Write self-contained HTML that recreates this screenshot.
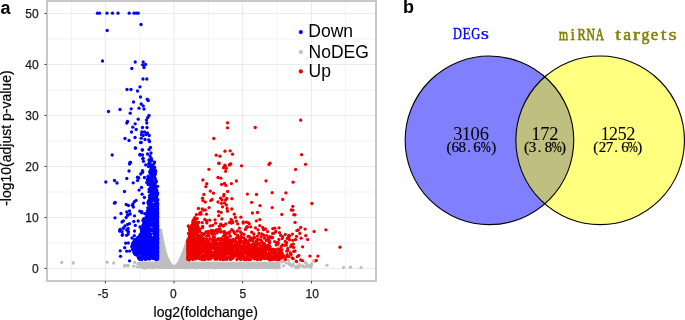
<!DOCTYPE html>
<html><head><meta charset="utf-8"><style>
html,body{margin:0;padding:0;background:#fff;}
body{width:685px;height:320px;overflow:hidden;}
svg{display:block;will-change:transform;}
</style></head><body><svg width="685" height="320" viewBox="0 0 685 320">
<g><line x1="71.40" y1="1" x2="71.40" y2="280" stroke="#f2f2f2" stroke-width="0.9"/><line x1="105.40" y1="1" x2="105.40" y2="280" stroke="#ebebeb" stroke-width="1.1"/><line x1="139.70" y1="1" x2="139.70" y2="280" stroke="#f2f2f2" stroke-width="0.9"/><line x1="174.00" y1="1" x2="174.00" y2="280" stroke="#ebebeb" stroke-width="1.1"/><line x1="208.40" y1="1" x2="208.40" y2="280" stroke="#f2f2f2" stroke-width="0.9"/><line x1="242.60" y1="1" x2="242.60" y2="280" stroke="#ebebeb" stroke-width="1.1"/><line x1="276.90" y1="1" x2="276.90" y2="280" stroke="#f2f2f2" stroke-width="0.9"/><line x1="311.50" y1="1" x2="311.50" y2="280" stroke="#ebebeb" stroke-width="1.1"/><line x1="345.60" y1="1" x2="345.60" y2="280" stroke="#f2f2f2" stroke-width="0.9"/><line x1="47" y1="268.44" x2="376" y2="268.44" stroke="#ebebeb" stroke-width="1.1"/><line x1="47" y1="242.94" x2="376" y2="242.94" stroke="#f2f2f2" stroke-width="0.9"/><line x1="47" y1="217.44" x2="376" y2="217.44" stroke="#ebebeb" stroke-width="1.1"/><line x1="47" y1="191.94" x2="376" y2="191.94" stroke="#f2f2f2" stroke-width="0.9"/><line x1="47" y1="166.44" x2="376" y2="166.44" stroke="#ebebeb" stroke-width="1.1"/><line x1="47" y1="140.94" x2="376" y2="140.94" stroke="#f2f2f2" stroke-width="0.9"/><line x1="47" y1="115.44" x2="376" y2="115.44" stroke="#ebebeb" stroke-width="1.1"/><line x1="47" y1="89.94" x2="376" y2="89.94" stroke="#f2f2f2" stroke-width="0.9"/><line x1="47" y1="64.44" x2="376" y2="64.44" stroke="#ebebeb" stroke-width="1.1"/><line x1="47" y1="38.94" x2="376" y2="38.94" stroke="#f2f2f2" stroke-width="0.9"/><line x1="47" y1="13.44" x2="376" y2="13.44" stroke="#ebebeb" stroke-width="1.1"/></g>
<path d="M158.5,228.8 L162,228.8 L164.25,241.5 L167.25,254.25 L171,262.5 L174,265.5 L177,262.5 L180,256.5 L183,249 L187,236.5 L187,261.8 L278,261.8 L279.5,265 L278,269 L160,269.1 L145,267.6 L138.5,265.5 L137,263 L140,261.6 L158.5,261.6 Z" fill="#bebebe"/>
<g fill="#bebebe"><circle cx="61.7" cy="262.5" r="1.65"/><circle cx="73.2" cy="263.0" r="1.65"/><circle cx="107.1" cy="262.2" r="1.65"/><circle cx="113.7" cy="263.0" r="1.65"/><circle cx="124.3" cy="266.0" r="1.65"/><circle cx="127.8" cy="266.0" r="1.65"/><circle cx="296.0" cy="267.7" r="1.65"/><circle cx="298.4" cy="267.7" r="1.65"/><circle cx="304.5" cy="266.8" r="1.65"/><circle cx="306.4" cy="263.7" r="1.65"/><circle cx="305.5" cy="262.4" r="1.65"/><circle cx="307.4" cy="265.3" r="1.65"/><circle cx="310.8" cy="267.2" r="1.65"/><circle cx="327.0" cy="265.3" r="1.65"/><circle cx="343.6" cy="267.6" r="1.65"/><circle cx="350.5" cy="267.2" r="1.65"/><circle cx="361.1" cy="267.6" r="1.65"/><circle cx="186.2" cy="267.9" r="1.65"/><circle cx="264.4" cy="266.4" r="1.65"/><circle cx="215.0" cy="267.9" r="1.65"/><circle cx="153.8" cy="267.7" r="1.65"/><circle cx="247.7" cy="267.5" r="1.65"/><circle cx="222.9" cy="266.2" r="1.65"/><circle cx="274.0" cy="266.2" r="1.65"/><circle cx="249.0" cy="267.4" r="1.65"/><circle cx="182.4" cy="267.4" r="1.65"/><circle cx="195.7" cy="267.5" r="1.65"/><circle cx="143.2" cy="267.9" r="1.65"/><circle cx="192.0" cy="267.6" r="1.65"/><circle cx="204.4" cy="267.6" r="1.65"/><circle cx="180.1" cy="267.1" r="1.65"/><circle cx="140.6" cy="267.0" r="1.65"/><circle cx="148.3" cy="267.7" r="1.65"/><circle cx="233.9" cy="266.9" r="1.65"/><circle cx="276.3" cy="267.9" r="1.65"/><circle cx="273.8" cy="266.2" r="1.65"/><circle cx="237.7" cy="267.5" r="1.65"/><circle cx="223.6" cy="266.0" r="1.65"/><circle cx="269.1" cy="266.9" r="1.65"/><circle cx="222.1" cy="267.6" r="1.65"/><circle cx="176.4" cy="266.1" r="1.65"/><circle cx="269.0" cy="266.5" r="1.65"/><circle cx="142.9" cy="266.3" r="1.65"/><circle cx="279.3" cy="267.5" r="1.65"/><circle cx="167.0" cy="266.3" r="1.65"/><circle cx="265.4" cy="267.3" r="1.65"/><circle cx="220.4" cy="266.3" r="1.65"/><circle cx="196.1" cy="267.9" r="1.65"/><circle cx="137.5" cy="266.8" r="1.65"/><circle cx="145.2" cy="268.0" r="1.65"/><circle cx="151.9" cy="267.9" r="1.65"/><circle cx="257.3" cy="267.5" r="1.65"/><circle cx="143.0" cy="267.4" r="1.65"/><circle cx="207.5" cy="267.0" r="1.65"/><circle cx="157.8" cy="267.0" r="1.65"/><circle cx="251.7" cy="266.3" r="1.65"/><circle cx="262.3" cy="266.8" r="1.65"/><circle cx="134.7" cy="262.4" r="1.65"/><circle cx="133.8" cy="266.2" r="1.65"/><circle cx="127.9" cy="265.3" r="1.65"/><circle cx="125.7" cy="265.3" r="1.65"/><circle cx="137.9" cy="263.8" r="1.65"/><circle cx="282.0" cy="261.9" r="1.65"/><circle cx="290.7" cy="265.2" r="1.65"/><circle cx="295.6" cy="267.1" r="1.65"/><circle cx="293.0" cy="264.1" r="1.65"/><circle cx="314.5" cy="261.7" r="1.65"/><circle cx="270.7" cy="262.6" r="1.65"/><circle cx="284.1" cy="261.0" r="1.65"/><circle cx="288.8" cy="260.3" r="1.65"/><circle cx="311.4" cy="263.9" r="1.65"/><circle cx="309.5" cy="265.6" r="1.65"/><circle cx="302.8" cy="266.1" r="1.65"/><circle cx="283.6" cy="265.8" r="1.65"/><circle cx="279.3" cy="264.4" r="1.65"/><circle cx="296.8" cy="266.2" r="1.65"/><circle cx="277.5" cy="262.8" r="1.65"/><circle cx="307.1" cy="266.4" r="1.65"/><circle cx="314.0" cy="260.9" r="1.65"/><circle cx="279.5" cy="260.9" r="1.65"/><circle cx="302.6" cy="266.0" r="1.65"/><circle cx="299.2" cy="266.2" r="1.65"/><circle cx="293.2" cy="264.5" r="1.65"/><circle cx="311.4" cy="265.2" r="1.65"/><circle cx="299.5" cy="264.7" r="1.65"/><circle cx="292.2" cy="266.1" r="1.65"/><circle cx="295.8" cy="261.0" r="1.65"/><circle cx="289.2" cy="263.4" r="1.65"/><circle cx="289.5" cy="264.5" r="1.65"/><circle cx="286.3" cy="263.1" r="1.65"/><circle cx="289.2" cy="263.0" r="1.65"/><circle cx="313.7" cy="260.7" r="1.65"/></g>
<g fill="#0000ff"><circle cx="97.5" cy="13.2" r="1.65"/><circle cx="99.5" cy="13.2" r="1.65"/><circle cx="107.0" cy="13.2" r="1.65"/><circle cx="112.5" cy="13.2" r="1.65"/><circle cx="118.0" cy="13.2" r="1.65"/><circle cx="129.2" cy="13.2" r="1.65"/><circle cx="134.0" cy="13.2" r="1.65"/><circle cx="136.2" cy="13.2" r="1.65"/><circle cx="138.2" cy="13.2" r="1.65"/><circle cx="141.0" cy="24.5" r="1.65"/><circle cx="107.2" cy="30.5" r="1.65"/><circle cx="142.6" cy="64.8" r="1.65"/><circle cx="102.5" cy="61.0" r="1.65"/><circle cx="135.2" cy="62.0" r="1.65"/><circle cx="131.8" cy="68.5" r="1.65"/><circle cx="143.2" cy="62.0" r="1.65"/><circle cx="145.5" cy="64.5" r="1.65"/><circle cx="144.0" cy="67.5" r="1.65"/><circle cx="143.0" cy="79.0" r="1.65"/><circle cx="146.8" cy="79.0" r="1.65"/><circle cx="140.0" cy="86.8" r="1.65"/><circle cx="127.0" cy="89.5" r="1.65"/><circle cx="131.0" cy="89.5" r="1.65"/><circle cx="137.5" cy="91.0" r="1.65"/><circle cx="140.5" cy="97.0" r="1.65"/><circle cx="147.2" cy="99.2" r="1.65"/><circle cx="148.2" cy="100.5" r="1.65"/><circle cx="133.5" cy="102.0" r="1.65"/><circle cx="141.2" cy="104.0" r="1.65"/><circle cx="143.2" cy="105.8" r="1.65"/><circle cx="139.0" cy="108.2" r="1.65"/><circle cx="144.0" cy="109.0" r="1.65"/><circle cx="120.0" cy="109.5" r="1.65"/><circle cx="131.2" cy="108.8" r="1.65"/><circle cx="108.5" cy="111.5" r="1.65"/><circle cx="130.2" cy="113.2" r="1.65"/><circle cx="149.0" cy="115.5" r="1.65"/><circle cx="147.8" cy="117.5" r="1.65"/><circle cx="146.5" cy="120.0" r="1.65"/><circle cx="138.2" cy="119.2" r="1.65"/><circle cx="127.5" cy="121.5" r="1.65"/><circle cx="126.8" cy="123.0" r="1.65"/><circle cx="135.2" cy="123.8" r="1.65"/><circle cx="146.8" cy="123.0" r="1.65"/><circle cx="132.8" cy="127.2" r="1.65"/><circle cx="142.5" cy="127.5" r="1.65"/><circle cx="147.0" cy="127.5" r="1.65"/><circle cx="136.2" cy="129.5" r="1.65"/><circle cx="131.5" cy="132.0" r="1.65"/><circle cx="141.8" cy="132.0" r="1.65"/><circle cx="144.5" cy="132.0" r="1.65"/><circle cx="147.5" cy="133.0" r="1.65"/><circle cx="141.5" cy="134.5" r="1.65"/><circle cx="143.2" cy="135.5" r="1.65"/><circle cx="146.2" cy="134.5" r="1.65"/><circle cx="149.2" cy="135.5" r="1.65"/><circle cx="135.0" cy="137.5" r="1.65"/><circle cx="125.0" cy="138.5" r="1.65"/><circle cx="129.0" cy="140.5" r="1.65"/><circle cx="141.2" cy="138.2" r="1.65"/><circle cx="145.0" cy="139.5" r="1.65"/><circle cx="148.8" cy="140.0" r="1.65"/><circle cx="140.5" cy="142.5" r="1.65"/><circle cx="149.5" cy="141.5" r="1.65"/><circle cx="135.2" cy="148.0" r="1.65"/><circle cx="150.5" cy="147.5" r="1.65"/><circle cx="149.0" cy="149.5" r="1.65"/><circle cx="142.2" cy="150.0" r="1.65"/><circle cx="112.2" cy="155.0" r="1.65"/><circle cx="140.0" cy="154.5" r="1.65"/><circle cx="142.5" cy="155.0" r="1.65"/><circle cx="147.5" cy="154.0" r="1.65"/><circle cx="151.0" cy="153.0" r="1.65"/><circle cx="150.0" cy="156.0" r="1.65"/><circle cx="143.0" cy="158.2" r="1.65"/><circle cx="151.2" cy="158.2" r="1.65"/><circle cx="141.2" cy="142.5" r="1.65"/><circle cx="135.6" cy="148.1" r="1.65"/><circle cx="142.5" cy="149.8" r="1.65"/><circle cx="140.0" cy="155.0" r="1.65"/><circle cx="142.9" cy="158.8" r="1.65"/><circle cx="130.6" cy="162.5" r="1.65"/><circle cx="142.5" cy="170.6" r="1.65"/><circle cx="137.5" cy="177.2" r="1.65"/><circle cx="144.4" cy="177.5" r="1.65"/><circle cx="130.0" cy="162.5" r="1.65"/><circle cx="129.5" cy="164.0" r="1.65"/><circle cx="129.0" cy="171.0" r="1.65"/><circle cx="105.8" cy="182.0" r="1.65"/><circle cx="114.5" cy="180.5" r="1.65"/><circle cx="117.0" cy="183.0" r="1.65"/><circle cx="126.8" cy="178.5" r="1.65"/><circle cx="133.2" cy="182.8" r="1.65"/><circle cx="138.0" cy="177.5" r="1.65"/><circle cx="124.5" cy="191.5" r="1.65"/><circle cx="114.5" cy="203.2" r="1.65"/><circle cx="115.2" cy="202.5" r="1.65"/><circle cx="126.2" cy="204.5" r="1.65"/><circle cx="128.5" cy="205.5" r="1.65"/><circle cx="133.0" cy="203.8" r="1.65"/><circle cx="121.0" cy="213.5" r="1.65"/><circle cx="126.8" cy="212.0" r="1.65"/><circle cx="129.5" cy="211.0" r="1.65"/><circle cx="127.5" cy="215.0" r="1.65"/><circle cx="130.2" cy="214.0" r="1.65"/><circle cx="115.0" cy="217.8" r="1.65"/><circle cx="126.2" cy="217.5" r="1.65"/><circle cx="122.0" cy="222.0" r="1.65"/><circle cx="133.8" cy="221.5" r="1.65"/><circle cx="138.2" cy="221.0" r="1.65"/><circle cx="127.5" cy="224.5" r="1.65"/><circle cx="123.8" cy="228.0" r="1.65"/><circle cx="120.0" cy="230.8" r="1.65"/><circle cx="122.0" cy="231.5" r="1.65"/><circle cx="128.0" cy="231.0" r="1.65"/><circle cx="134.5" cy="231.0" r="1.65"/><circle cx="140.0" cy="227.0" r="1.65"/><circle cx="122.5" cy="234.5" r="1.65"/><circle cx="128.2" cy="234.0" r="1.65"/><circle cx="132.0" cy="238.0" r="1.65"/><circle cx="140.0" cy="235.0" r="1.65"/><circle cx="120.5" cy="256.3" r="1.65"/><circle cx="120.2" cy="250.8" r="1.65"/><circle cx="126.7" cy="251.2" r="1.65"/><circle cx="124.7" cy="247.7" r="1.65"/><circle cx="125.7" cy="243.2" r="1.65"/><circle cx="128.3" cy="243.0" r="1.65"/><circle cx="129.5" cy="260.8" r="1.65"/><circle cx="122.3" cy="235.3" r="1.65"/><circle cx="119.7" cy="231.0" r="1.65"/><circle cx="123.1" cy="228.1" r="1.65"/><circle cx="126.6" cy="235.3" r="1.65"/><circle cx="128.3" cy="231.9" r="1.65"/><circle cx="149.5" cy="160.2" r="1.65"/><circle cx="149.0" cy="160.0" r="1.65"/><circle cx="151.8" cy="160.5" r="1.65"/><circle cx="151.3" cy="160.6" r="1.65"/><circle cx="143.5" cy="161.3" r="1.65"/><circle cx="150.0" cy="162.1" r="1.65"/><circle cx="154.6" cy="162.1" r="1.65"/><circle cx="148.9" cy="163.4" r="1.65"/><circle cx="149.4" cy="163.8" r="1.65"/><circle cx="153.9" cy="163.7" r="1.65"/><circle cx="151.1" cy="165.0" r="1.65"/><circle cx="149.1" cy="164.6" r="1.65"/><circle cx="145.7" cy="164.9" r="1.65"/><circle cx="152.6" cy="166.0" r="1.65"/><circle cx="150.7" cy="166.3" r="1.65"/><circle cx="152.5" cy="167.0" r="1.65"/><circle cx="154.5" cy="167.2" r="1.65"/><circle cx="148.5" cy="166.6" r="1.65"/><circle cx="153.8" cy="167.7" r="1.65"/><circle cx="152.0" cy="167.5" r="1.65"/><circle cx="152.7" cy="169.4" r="1.65"/><circle cx="150.9" cy="169.2" r="1.65"/><circle cx="151.9" cy="170.3" r="1.65"/><circle cx="155.2" cy="170.0" r="1.65"/><circle cx="153.6" cy="171.1" r="1.65"/><circle cx="155.6" cy="171.3" r="1.65"/><circle cx="142.5" cy="171.2" r="1.65"/><circle cx="152.1" cy="171.7" r="1.65"/><circle cx="149.7" cy="171.6" r="1.65"/><circle cx="154.2" cy="171.6" r="1.65"/><circle cx="142.5" cy="172.4" r="1.65"/><circle cx="152.0" cy="173.0" r="1.65"/><circle cx="155.0" cy="173.3" r="1.65"/><circle cx="154.9" cy="172.8" r="1.65"/><circle cx="155.1" cy="174.5" r="1.65"/><circle cx="150.0" cy="173.7" r="1.65"/><circle cx="140.7" cy="174.0" r="1.65"/><circle cx="150.8" cy="174.5" r="1.65"/><circle cx="151.9" cy="174.9" r="1.65"/><circle cx="153.9" cy="176.0" r="1.65"/><circle cx="153.4" cy="176.2" r="1.65"/><circle cx="147.9" cy="176.3" r="1.65"/><circle cx="154.7" cy="176.9" r="1.65"/><circle cx="151.9" cy="176.6" r="1.65"/><circle cx="149.5" cy="177.7" r="1.65"/><circle cx="150.2" cy="177.8" r="1.65"/><circle cx="149.4" cy="177.5" r="1.65"/><circle cx="138.8" cy="177.9" r="1.65"/><circle cx="155.4" cy="179.1" r="1.65"/><circle cx="150.1" cy="178.8" r="1.65"/><circle cx="151.6" cy="178.9" r="1.65"/><circle cx="147.3" cy="179.5" r="1.65"/><circle cx="152.6" cy="179.6" r="1.65"/><circle cx="149.8" cy="179.8" r="1.65"/><circle cx="151.0" cy="180.3" r="1.65"/><circle cx="137.6" cy="180.5" r="1.65"/><circle cx="150.1" cy="181.0" r="1.65"/><circle cx="149.2" cy="181.0" r="1.65"/><circle cx="156.4" cy="181.4" r="1.65"/><circle cx="151.8" cy="181.7" r="1.65"/><circle cx="154.9" cy="182.0" r="1.65"/><circle cx="155.0" cy="181.8" r="1.65"/><circle cx="146.8" cy="182.5" r="1.65"/><circle cx="155.2" cy="183.3" r="1.65"/><circle cx="154.7" cy="182.7" r="1.65"/><circle cx="149.2" cy="183.5" r="1.65"/><circle cx="151.2" cy="183.8" r="1.65"/><circle cx="154.4" cy="184.5" r="1.65"/><circle cx="148.2" cy="184.5" r="1.65"/><circle cx="151.9" cy="184.7" r="1.65"/><circle cx="150.8" cy="184.7" r="1.65"/><circle cx="150.6" cy="185.1" r="1.65"/><circle cx="152.8" cy="186.2" r="1.65"/><circle cx="155.4" cy="185.6" r="1.65"/><circle cx="154.3" cy="186.4" r="1.65"/><circle cx="152.9" cy="186.7" r="1.65"/><circle cx="155.4" cy="186.8" r="1.65"/><circle cx="155.5" cy="187.5" r="1.65"/><circle cx="141.5" cy="187.4" r="1.65"/><circle cx="150.4" cy="187.6" r="1.65"/><circle cx="150.2" cy="188.4" r="1.65"/><circle cx="155.6" cy="187.6" r="1.65"/><circle cx="154.5" cy="188.9" r="1.65"/><circle cx="153.6" cy="188.6" r="1.65"/><circle cx="149.1" cy="189.5" r="1.65"/><circle cx="156.8" cy="189.9" r="1.65"/><circle cx="156.3" cy="190.3" r="1.65"/><circle cx="150.8" cy="189.8" r="1.65"/><circle cx="139.1" cy="190.1" r="1.65"/><circle cx="152.4" cy="190.6" r="1.65"/><circle cx="156.6" cy="190.9" r="1.65"/><circle cx="152.8" cy="191.1" r="1.65"/><circle cx="156.6" cy="190.9" r="1.65"/><circle cx="153.3" cy="192.0" r="1.65"/><circle cx="149.0" cy="191.9" r="1.65"/><circle cx="150.4" cy="191.5" r="1.65"/><circle cx="152.8" cy="193.2" r="1.65"/><circle cx="153.5" cy="192.8" r="1.65"/><circle cx="153.1" cy="193.1" r="1.65"/><circle cx="155.4" cy="192.6" r="1.65"/><circle cx="151.0" cy="194.3" r="1.65"/><circle cx="153.0" cy="194.1" r="1.65"/><circle cx="155.2" cy="194.4" r="1.65"/><circle cx="152.4" cy="194.1" r="1.65"/><circle cx="142.1" cy="194.2" r="1.65"/><circle cx="153.1" cy="195.0" r="1.65"/><circle cx="156.7" cy="195.2" r="1.65"/><circle cx="156.1" cy="195.4" r="1.65"/><circle cx="150.8" cy="195.1" r="1.65"/><circle cx="149.6" cy="195.6" r="1.65"/><circle cx="152.3" cy="195.6" r="1.65"/><circle cx="150.5" cy="195.6" r="1.65"/><circle cx="156.2" cy="196.7" r="1.65"/><circle cx="154.6" cy="197.2" r="1.65"/><circle cx="149.6" cy="197.4" r="1.65"/><circle cx="156.8" cy="196.7" r="1.65"/><circle cx="152.5" cy="198.5" r="1.65"/><circle cx="155.6" cy="197.7" r="1.65"/><circle cx="152.0" cy="198.0" r="1.65"/><circle cx="151.2" cy="197.7" r="1.65"/><circle cx="144.4" cy="197.5" r="1.65"/><circle cx="152.0" cy="198.5" r="1.65"/><circle cx="151.1" cy="199.1" r="1.65"/><circle cx="152.7" cy="198.6" r="1.65"/><circle cx="156.9" cy="199.3" r="1.65"/><circle cx="150.4" cy="199.5" r="1.65"/><circle cx="155.0" cy="199.8" r="1.65"/><circle cx="149.2" cy="199.9" r="1.65"/><circle cx="156.2" cy="200.3" r="1.65"/><circle cx="136.1" cy="200.4" r="1.65"/><circle cx="154.3" cy="200.6" r="1.65"/><circle cx="148.5" cy="201.2" r="1.65"/><circle cx="151.8" cy="200.6" r="1.65"/><circle cx="156.5" cy="201.1" r="1.65"/><circle cx="155.7" cy="201.6" r="1.65"/><circle cx="155.8" cy="202.0" r="1.65"/><circle cx="151.0" cy="202.1" r="1.65"/><circle cx="156.4" cy="201.8" r="1.65"/><circle cx="149.1" cy="202.0" r="1.65"/><circle cx="134.4" cy="201.7" r="1.65"/><circle cx="149.7" cy="202.8" r="1.65"/><circle cx="150.6" cy="203.3" r="1.65"/><circle cx="150.5" cy="203.0" r="1.65"/><circle cx="149.4" cy="202.8" r="1.65"/><circle cx="148.0" cy="202.8" r="1.65"/><circle cx="143.6" cy="203.1" r="1.65"/><circle cx="152.2" cy="204.4" r="1.65"/><circle cx="148.7" cy="204.3" r="1.65"/><circle cx="151.8" cy="204.0" r="1.65"/><circle cx="155.5" cy="203.9" r="1.65"/><circle cx="152.5" cy="204.2" r="1.65"/><circle cx="155.5" cy="205.2" r="1.65"/><circle cx="153.7" cy="204.9" r="1.65"/><circle cx="150.9" cy="204.6" r="1.65"/><circle cx="148.9" cy="204.6" r="1.65"/><circle cx="154.7" cy="204.8" r="1.65"/><circle cx="132.4" cy="205.3" r="1.65"/><circle cx="154.0" cy="205.8" r="1.65"/><circle cx="149.9" cy="205.8" r="1.65"/><circle cx="152.0" cy="205.7" r="1.65"/><circle cx="151.8" cy="205.8" r="1.65"/><circle cx="152.8" cy="206.7" r="1.65"/><circle cx="156.8" cy="206.8" r="1.65"/><circle cx="151.0" cy="206.5" r="1.65"/><circle cx="151.2" cy="207.0" r="1.65"/><circle cx="133.4" cy="207.0" r="1.65"/><circle cx="150.0" cy="207.6" r="1.65"/><circle cx="151.3" cy="207.5" r="1.65"/><circle cx="147.7" cy="207.8" r="1.65"/><circle cx="149.7" cy="208.1" r="1.65"/><circle cx="152.6" cy="208.3" r="1.65"/><circle cx="156.0" cy="208.9" r="1.65"/><circle cx="150.6" cy="209.5" r="1.65"/><circle cx="148.9" cy="209.2" r="1.65"/><circle cx="153.7" cy="208.5" r="1.65"/><circle cx="153.5" cy="210.2" r="1.65"/><circle cx="155.3" cy="209.6" r="1.65"/><circle cx="152.5" cy="210.0" r="1.65"/><circle cx="155.6" cy="210.3" r="1.65"/><circle cx="156.2" cy="211.2" r="1.65"/><circle cx="154.2" cy="210.7" r="1.65"/><circle cx="147.6" cy="210.6" r="1.65"/><circle cx="150.9" cy="210.6" r="1.65"/><circle cx="155.6" cy="211.1" r="1.65"/><circle cx="139.8" cy="211.2" r="1.65"/><circle cx="147.2" cy="212.3" r="1.65"/><circle cx="154.7" cy="212.0" r="1.65"/><circle cx="152.6" cy="212.2" r="1.65"/><circle cx="147.9" cy="212.2" r="1.65"/><circle cx="149.7" cy="211.6" r="1.65"/><circle cx="141.7" cy="211.7" r="1.65"/><circle cx="157.0" cy="213.0" r="1.65"/><circle cx="151.0" cy="213.0" r="1.65"/><circle cx="154.1" cy="213.3" r="1.65"/><circle cx="153.4" cy="213.1" r="1.65"/><circle cx="147.9" cy="212.6" r="1.65"/><circle cx="141.8" cy="212.8" r="1.65"/><circle cx="147.2" cy="213.6" r="1.65"/><circle cx="149.8" cy="214.2" r="1.65"/><circle cx="154.1" cy="214.2" r="1.65"/><circle cx="150.0" cy="214.0" r="1.65"/><circle cx="151.8" cy="214.0" r="1.65"/><circle cx="144.8" cy="213.7" r="1.65"/><circle cx="156.6" cy="214.5" r="1.65"/><circle cx="151.7" cy="215.3" r="1.65"/><circle cx="157.0" cy="214.9" r="1.65"/><circle cx="149.8" cy="214.7" r="1.65"/><circle cx="156.7" cy="214.7" r="1.65"/><circle cx="128.1" cy="215.0" r="1.65"/><circle cx="148.0" cy="216.3" r="1.65"/><circle cx="152.1" cy="216.4" r="1.65"/><circle cx="154.1" cy="215.7" r="1.65"/><circle cx="156.2" cy="216.0" r="1.65"/><circle cx="146.9" cy="215.5" r="1.65"/><circle cx="134.5" cy="215.8" r="1.65"/><circle cx="150.0" cy="216.8" r="1.65"/><circle cx="155.6" cy="216.5" r="1.65"/><circle cx="154.6" cy="217.3" r="1.65"/><circle cx="147.5" cy="217.4" r="1.65"/><circle cx="154.1" cy="217.4" r="1.65"/><circle cx="149.4" cy="216.9" r="1.65"/><circle cx="146.2" cy="217.1" r="1.65"/><circle cx="150.7" cy="217.8" r="1.65"/><circle cx="146.4" cy="217.6" r="1.65"/><circle cx="155.4" cy="217.8" r="1.65"/><circle cx="156.6" cy="217.7" r="1.65"/><circle cx="148.9" cy="218.0" r="1.65"/><circle cx="148.0" cy="217.9" r="1.65"/><circle cx="155.1" cy="219.1" r="1.65"/><circle cx="156.3" cy="219.4" r="1.65"/><circle cx="152.0" cy="219.2" r="1.65"/><circle cx="146.0" cy="219.2" r="1.65"/><circle cx="150.8" cy="219.3" r="1.65"/><circle cx="153.1" cy="218.8" r="1.65"/><circle cx="143.8" cy="218.6" r="1.65"/><circle cx="149.3" cy="219.8" r="1.65"/><circle cx="154.2" cy="220.5" r="1.65"/><circle cx="148.2" cy="220.2" r="1.65"/><circle cx="148.7" cy="220.1" r="1.65"/><circle cx="149.9" cy="219.7" r="1.65"/><circle cx="147.0" cy="219.7" r="1.65"/><circle cx="156.2" cy="220.0" r="1.65"/><circle cx="142.9" cy="220.5" r="1.65"/><circle cx="146.4" cy="220.7" r="1.65"/><circle cx="145.8" cy="220.8" r="1.65"/><circle cx="145.8" cy="220.7" r="1.65"/><circle cx="147.9" cy="221.1" r="1.65"/><circle cx="156.0" cy="221.2" r="1.65"/><circle cx="149.9" cy="220.9" r="1.65"/><circle cx="151.3" cy="220.9" r="1.65"/><circle cx="123.4" cy="220.8" r="1.65"/><circle cx="145.9" cy="222.0" r="1.65"/><circle cx="152.5" cy="222.4" r="1.65"/><circle cx="147.1" cy="221.8" r="1.65"/><circle cx="147.5" cy="221.9" r="1.65"/><circle cx="150.1" cy="222.5" r="1.65"/><circle cx="155.4" cy="222.4" r="1.65"/><circle cx="144.5" cy="221.5" r="1.65"/><circle cx="150.3" cy="223.1" r="1.65"/><circle cx="143.8" cy="222.9" r="1.65"/><circle cx="156.5" cy="223.3" r="1.65"/><circle cx="155.5" cy="223.5" r="1.65"/><circle cx="147.2" cy="222.6" r="1.65"/><circle cx="145.9" cy="223.0" r="1.65"/><circle cx="153.1" cy="223.4" r="1.65"/><circle cx="154.2" cy="224.0" r="1.65"/><circle cx="151.2" cy="223.5" r="1.65"/><circle cx="154.4" cy="223.7" r="1.65"/><circle cx="156.4" cy="224.1" r="1.65"/><circle cx="147.7" cy="223.6" r="1.65"/><circle cx="146.9" cy="224.1" r="1.65"/><circle cx="153.2" cy="223.6" r="1.65"/><circle cx="144.4" cy="224.0" r="1.65"/><circle cx="129.4" cy="223.7" r="1.65"/><circle cx="143.2" cy="224.8" r="1.65"/><circle cx="149.7" cy="225.5" r="1.65"/><circle cx="152.3" cy="225.4" r="1.65"/><circle cx="149.9" cy="224.7" r="1.65"/><circle cx="146.6" cy="225.5" r="1.65"/><circle cx="153.2" cy="224.8" r="1.65"/><circle cx="143.3" cy="225.0" r="1.65"/><circle cx="152.8" cy="224.9" r="1.65"/><circle cx="135.3" cy="225.4" r="1.65"/><circle cx="143.1" cy="225.8" r="1.65"/><circle cx="148.9" cy="226.2" r="1.65"/><circle cx="145.6" cy="226.3" r="1.65"/><circle cx="153.6" cy="226.0" r="1.65"/><circle cx="145.7" cy="226.5" r="1.65"/><circle cx="147.2" cy="226.3" r="1.65"/><circle cx="146.0" cy="225.7" r="1.65"/><circle cx="153.9" cy="225.8" r="1.65"/><circle cx="156.8" cy="226.0" r="1.65"/><circle cx="125.0" cy="225.9" r="1.65"/><circle cx="156.7" cy="226.6" r="1.65"/><circle cx="148.2" cy="226.7" r="1.65"/><circle cx="157.1" cy="226.6" r="1.65"/><circle cx="143.0" cy="226.6" r="1.65"/><circle cx="148.2" cy="227.4" r="1.65"/><circle cx="155.7" cy="227.2" r="1.65"/><circle cx="157.5" cy="227.4" r="1.65"/><circle cx="147.2" cy="226.7" r="1.65"/><circle cx="142.3" cy="228.2" r="1.65"/><circle cx="147.8" cy="227.9" r="1.65"/><circle cx="147.0" cy="227.7" r="1.65"/><circle cx="141.8" cy="227.8" r="1.65"/><circle cx="147.3" cy="228.5" r="1.65"/><circle cx="143.7" cy="228.5" r="1.65"/><circle cx="145.1" cy="227.9" r="1.65"/><circle cx="154.7" cy="228.3" r="1.65"/><circle cx="148.6" cy="227.5" r="1.65"/><circle cx="128.1" cy="228.4" r="1.65"/><circle cx="147.3" cy="229.4" r="1.65"/><circle cx="141.9" cy="228.9" r="1.65"/><circle cx="154.5" cy="229.3" r="1.65"/><circle cx="142.1" cy="228.5" r="1.65"/><circle cx="142.4" cy="229.4" r="1.65"/><circle cx="145.5" cy="229.2" r="1.65"/><circle cx="155.9" cy="228.8" r="1.65"/><circle cx="145.8" cy="229.5" r="1.65"/><circle cx="151.4" cy="228.8" r="1.65"/><circle cx="153.0" cy="228.8" r="1.65"/><circle cx="120.1" cy="229.3" r="1.65"/><circle cx="151.5" cy="230.4" r="1.65"/><circle cx="141.4" cy="229.7" r="1.65"/><circle cx="148.9" cy="230.5" r="1.65"/><circle cx="156.8" cy="229.9" r="1.65"/><circle cx="145.2" cy="229.9" r="1.65"/><circle cx="149.2" cy="230.4" r="1.65"/><circle cx="144.0" cy="230.3" r="1.65"/><circle cx="153.2" cy="230.3" r="1.65"/><circle cx="153.8" cy="230.1" r="1.65"/><circle cx="126.7" cy="229.9" r="1.65"/><circle cx="141.9" cy="230.7" r="1.65"/><circle cx="153.4" cy="230.7" r="1.65"/><circle cx="141.7" cy="230.5" r="1.65"/><circle cx="150.0" cy="230.8" r="1.65"/><circle cx="157.2" cy="231.4" r="1.65"/><circle cx="157.4" cy="230.8" r="1.65"/><circle cx="142.0" cy="230.6" r="1.65"/><circle cx="149.1" cy="231.2" r="1.65"/><circle cx="148.2" cy="230.7" r="1.65"/><circle cx="147.7" cy="231.1" r="1.65"/><circle cx="154.9" cy="232.2" r="1.65"/><circle cx="142.3" cy="232.3" r="1.65"/><circle cx="145.3" cy="232.1" r="1.65"/><circle cx="146.7" cy="232.2" r="1.65"/><circle cx="143.7" cy="231.7" r="1.65"/><circle cx="144.5" cy="231.7" r="1.65"/><circle cx="155.6" cy="232.1" r="1.65"/><circle cx="145.9" cy="231.9" r="1.65"/><circle cx="157.4" cy="232.0" r="1.65"/><circle cx="144.2" cy="232.3" r="1.65"/><circle cx="141.6" cy="233.0" r="1.65"/><circle cx="154.4" cy="233.3" r="1.65"/><circle cx="156.1" cy="232.5" r="1.65"/><circle cx="145.0" cy="232.6" r="1.65"/><circle cx="143.2" cy="233.5" r="1.65"/><circle cx="150.2" cy="233.4" r="1.65"/><circle cx="146.4" cy="233.4" r="1.65"/><circle cx="147.8" cy="232.8" r="1.65"/><circle cx="153.6" cy="233.4" r="1.65"/><circle cx="141.7" cy="233.1" r="1.65"/><circle cx="146.1" cy="233.6" r="1.65"/><circle cx="143.1" cy="233.8" r="1.65"/><circle cx="150.3" cy="234.2" r="1.65"/><circle cx="143.1" cy="233.5" r="1.65"/><circle cx="145.4" cy="234.2" r="1.65"/><circle cx="142.8" cy="233.8" r="1.65"/><circle cx="143.1" cy="234.3" r="1.65"/><circle cx="149.4" cy="233.6" r="1.65"/><circle cx="141.2" cy="233.9" r="1.65"/><circle cx="149.4" cy="234.1" r="1.65"/><circle cx="141.1" cy="233.7" r="1.65"/><circle cx="144.3" cy="234.8" r="1.65"/><circle cx="156.7" cy="234.8" r="1.65"/><circle cx="149.5" cy="234.9" r="1.65"/><circle cx="146.7" cy="235.4" r="1.65"/><circle cx="157.5" cy="234.9" r="1.65"/><circle cx="142.7" cy="235.2" r="1.65"/><circle cx="142.8" cy="234.5" r="1.65"/><circle cx="155.8" cy="234.9" r="1.65"/><circle cx="154.3" cy="234.9" r="1.65"/><circle cx="155.4" cy="235.0" r="1.65"/><circle cx="142.0" cy="234.5" r="1.65"/><circle cx="155.8" cy="235.6" r="1.65"/><circle cx="150.2" cy="235.9" r="1.65"/><circle cx="148.0" cy="235.6" r="1.65"/><circle cx="143.7" cy="236.0" r="1.65"/><circle cx="156.2" cy="235.6" r="1.65"/><circle cx="147.7" cy="236.3" r="1.65"/><circle cx="157.0" cy="235.7" r="1.65"/><circle cx="140.6" cy="236.4" r="1.65"/><circle cx="157.1" cy="236.0" r="1.65"/><circle cx="139.2" cy="236.4" r="1.65"/><circle cx="145.7" cy="236.4" r="1.65"/><circle cx="150.2" cy="236.3" r="1.65"/><circle cx="134.3" cy="235.7" r="1.65"/><circle cx="154.5" cy="237.3" r="1.65"/><circle cx="141.0" cy="236.7" r="1.65"/><circle cx="145.4" cy="237.0" r="1.65"/><circle cx="145.1" cy="236.6" r="1.65"/><circle cx="142.3" cy="237.2" r="1.65"/><circle cx="155.5" cy="236.5" r="1.65"/><circle cx="148.7" cy="237.3" r="1.65"/><circle cx="138.1" cy="237.3" r="1.65"/><circle cx="139.7" cy="237.1" r="1.65"/><circle cx="148.5" cy="237.1" r="1.65"/><circle cx="143.5" cy="236.9" r="1.65"/><circle cx="149.1" cy="236.9" r="1.65"/><circle cx="150.7" cy="236.9" r="1.65"/><circle cx="149.5" cy="238.0" r="1.65"/><circle cx="141.4" cy="238.3" r="1.65"/><circle cx="152.9" cy="238.0" r="1.65"/><circle cx="140.2" cy="238.0" r="1.65"/><circle cx="138.7" cy="237.6" r="1.65"/><circle cx="145.5" cy="237.6" r="1.65"/><circle cx="145.8" cy="238.0" r="1.65"/><circle cx="137.3" cy="238.1" r="1.65"/><circle cx="138.2" cy="238.2" r="1.65"/><circle cx="152.9" cy="238.0" r="1.65"/><circle cx="137.6" cy="238.0" r="1.65"/><circle cx="144.4" cy="238.5" r="1.65"/><circle cx="139.3" cy="238.4" r="1.65"/><circle cx="157.5" cy="238.2" r="1.65"/><circle cx="157.2" cy="239.0" r="1.65"/><circle cx="156.6" cy="239.4" r="1.65"/><circle cx="139.2" cy="239.3" r="1.65"/><circle cx="156.1" cy="238.6" r="1.65"/><circle cx="143.3" cy="239.3" r="1.65"/><circle cx="139.1" cy="239.4" r="1.65"/><circle cx="141.6" cy="239.3" r="1.65"/><circle cx="138.7" cy="239.0" r="1.65"/><circle cx="155.8" cy="238.7" r="1.65"/><circle cx="141.4" cy="239.0" r="1.65"/><circle cx="142.6" cy="238.5" r="1.65"/><circle cx="139.6" cy="238.7" r="1.65"/><circle cx="156.2" cy="239.2" r="1.65"/><circle cx="155.3" cy="238.7" r="1.65"/><circle cx="152.9" cy="238.6" r="1.65"/><circle cx="142.9" cy="240.4" r="1.65"/><circle cx="147.4" cy="240.1" r="1.65"/><circle cx="154.9" cy="239.6" r="1.65"/><circle cx="157.4" cy="240.1" r="1.65"/><circle cx="143.7" cy="240.3" r="1.65"/><circle cx="140.8" cy="240.5" r="1.65"/><circle cx="147.9" cy="239.9" r="1.65"/><circle cx="152.2" cy="239.9" r="1.65"/><circle cx="138.8" cy="240.2" r="1.65"/><circle cx="135.8" cy="240.3" r="1.65"/><circle cx="140.5" cy="240.1" r="1.65"/><circle cx="157.2" cy="240.1" r="1.65"/><circle cx="149.9" cy="239.8" r="1.65"/><circle cx="134.8" cy="239.5" r="1.65"/><circle cx="138.1" cy="240.1" r="1.65"/><circle cx="155.1" cy="240.6" r="1.65"/><circle cx="139.3" cy="241.2" r="1.65"/><circle cx="134.4" cy="240.5" r="1.65"/><circle cx="142.3" cy="240.6" r="1.65"/><circle cx="142.3" cy="240.7" r="1.65"/><circle cx="147.7" cy="241.1" r="1.65"/><circle cx="138.7" cy="241.1" r="1.65"/><circle cx="145.1" cy="240.6" r="1.65"/><circle cx="156.1" cy="240.7" r="1.65"/><circle cx="137.4" cy="240.6" r="1.65"/><circle cx="149.0" cy="241.4" r="1.65"/><circle cx="152.4" cy="240.9" r="1.65"/><circle cx="140.1" cy="240.5" r="1.65"/><circle cx="149.2" cy="241.1" r="1.65"/><circle cx="142.2" cy="241.1" r="1.65"/><circle cx="144.4" cy="241.4" r="1.65"/><circle cx="155.2" cy="241.5" r="1.65"/><circle cx="146.1" cy="241.9" r="1.65"/><circle cx="138.8" cy="241.6" r="1.65"/><circle cx="152.2" cy="241.5" r="1.65"/><circle cx="146.6" cy="242.4" r="1.65"/><circle cx="136.5" cy="241.7" r="1.65"/><circle cx="148.0" cy="242.0" r="1.65"/><circle cx="148.8" cy="242.3" r="1.65"/><circle cx="137.3" cy="241.8" r="1.65"/><circle cx="140.4" cy="241.5" r="1.65"/><circle cx="154.9" cy="242.3" r="1.65"/><circle cx="150.6" cy="241.5" r="1.65"/><circle cx="153.8" cy="242.2" r="1.65"/><circle cx="144.4" cy="242.2" r="1.65"/><circle cx="144.1" cy="241.7" r="1.65"/><circle cx="135.6" cy="241.7" r="1.65"/><circle cx="134.0" cy="241.8" r="1.65"/><circle cx="153.7" cy="243.2" r="1.65"/><circle cx="139.2" cy="243.1" r="1.65"/><circle cx="143.5" cy="243.3" r="1.65"/><circle cx="145.7" cy="242.8" r="1.65"/><circle cx="148.7" cy="243.5" r="1.65"/><circle cx="138.0" cy="243.4" r="1.65"/><circle cx="133.0" cy="242.8" r="1.65"/><circle cx="138.5" cy="243.2" r="1.65"/><circle cx="156.2" cy="243.2" r="1.65"/><circle cx="140.8" cy="243.4" r="1.65"/><circle cx="140.8" cy="242.7" r="1.65"/><circle cx="155.3" cy="243.1" r="1.65"/><circle cx="149.9" cy="243.2" r="1.65"/><circle cx="157.1" cy="243.0" r="1.65"/><circle cx="153.6" cy="243.2" r="1.65"/><circle cx="154.0" cy="242.9" r="1.65"/><circle cx="150.7" cy="243.1" r="1.65"/><circle cx="140.3" cy="242.7" r="1.65"/><circle cx="155.3" cy="243.6" r="1.65"/><circle cx="132.9" cy="243.6" r="1.65"/><circle cx="155.8" cy="243.8" r="1.65"/><circle cx="135.8" cy="243.5" r="1.65"/><circle cx="133.3" cy="244.2" r="1.65"/><circle cx="148.3" cy="244.2" r="1.65"/><circle cx="150.9" cy="243.6" r="1.65"/><circle cx="147.2" cy="243.9" r="1.65"/><circle cx="153.0" cy="244.3" r="1.65"/><circle cx="154.8" cy="243.6" r="1.65"/><circle cx="154.2" cy="244.4" r="1.65"/><circle cx="156.2" cy="243.6" r="1.65"/><circle cx="137.4" cy="243.6" r="1.65"/><circle cx="133.1" cy="244.3" r="1.65"/><circle cx="152.8" cy="244.1" r="1.65"/><circle cx="153.2" cy="244.1" r="1.65"/><circle cx="139.5" cy="243.6" r="1.65"/><circle cx="134.7" cy="244.3" r="1.65"/><circle cx="137.4" cy="243.8" r="1.65"/><circle cx="138.4" cy="244.8" r="1.65"/><circle cx="150.3" cy="244.9" r="1.65"/><circle cx="140.1" cy="245.5" r="1.65"/><circle cx="144.8" cy="245.4" r="1.65"/><circle cx="147.8" cy="244.5" r="1.65"/><circle cx="142.5" cy="244.9" r="1.65"/><circle cx="151.7" cy="244.8" r="1.65"/><circle cx="150.0" cy="245.0" r="1.65"/><circle cx="137.4" cy="245.4" r="1.65"/><circle cx="134.1" cy="245.3" r="1.65"/><circle cx="136.2" cy="244.5" r="1.65"/><circle cx="137.0" cy="245.3" r="1.65"/><circle cx="157.0" cy="244.5" r="1.65"/><circle cx="144.5" cy="245.0" r="1.65"/><circle cx="152.4" cy="244.7" r="1.65"/><circle cx="144.6" cy="244.8" r="1.65"/><circle cx="153.3" cy="244.8" r="1.65"/><circle cx="156.2" cy="244.8" r="1.65"/><circle cx="137.3" cy="245.2" r="1.65"/><circle cx="148.1" cy="245.6" r="1.65"/><circle cx="152.0" cy="246.2" r="1.65"/><circle cx="152.0" cy="246.1" r="1.65"/><circle cx="140.7" cy="245.9" r="1.65"/><circle cx="141.7" cy="246.4" r="1.65"/><circle cx="133.7" cy="246.4" r="1.65"/><circle cx="132.1" cy="245.7" r="1.65"/><circle cx="138.3" cy="246.4" r="1.65"/><circle cx="144.5" cy="245.9" r="1.65"/><circle cx="154.6" cy="245.7" r="1.65"/><circle cx="143.5" cy="246.0" r="1.65"/><circle cx="151.2" cy="246.3" r="1.65"/><circle cx="148.3" cy="245.8" r="1.65"/><circle cx="140.0" cy="245.7" r="1.65"/><circle cx="153.5" cy="246.2" r="1.65"/><circle cx="150.8" cy="245.7" r="1.65"/><circle cx="142.9" cy="246.3" r="1.65"/><circle cx="146.6" cy="245.6" r="1.65"/><circle cx="143.5" cy="246.4" r="1.65"/><circle cx="137.6" cy="245.7" r="1.65"/><circle cx="153.4" cy="246.7" r="1.65"/><circle cx="135.1" cy="246.7" r="1.65"/><circle cx="139.7" cy="247.0" r="1.65"/><circle cx="135.3" cy="246.8" r="1.65"/><circle cx="136.0" cy="247.5" r="1.65"/><circle cx="150.4" cy="246.6" r="1.65"/><circle cx="156.6" cy="246.6" r="1.65"/><circle cx="141.2" cy="247.5" r="1.65"/><circle cx="152.1" cy="247.2" r="1.65"/><circle cx="142.6" cy="246.7" r="1.65"/><circle cx="148.0" cy="246.6" r="1.65"/><circle cx="136.5" cy="246.9" r="1.65"/><circle cx="131.9" cy="246.9" r="1.65"/><circle cx="152.0" cy="247.2" r="1.65"/><circle cx="144.3" cy="247.1" r="1.65"/><circle cx="143.3" cy="246.6" r="1.65"/><circle cx="147.1" cy="246.9" r="1.65"/><circle cx="150.7" cy="247.4" r="1.65"/><circle cx="142.4" cy="247.1" r="1.65"/><circle cx="150.9" cy="246.9" r="1.65"/><circle cx="154.5" cy="248.3" r="1.65"/><circle cx="149.7" cy="248.4" r="1.65"/><circle cx="149.2" cy="248.1" r="1.65"/><circle cx="143.3" cy="247.8" r="1.65"/><circle cx="147.9" cy="247.6" r="1.65"/><circle cx="142.4" cy="248.3" r="1.65"/><circle cx="150.1" cy="248.1" r="1.65"/><circle cx="138.0" cy="247.9" r="1.65"/><circle cx="143.3" cy="248.1" r="1.65"/><circle cx="142.1" cy="248.2" r="1.65"/><circle cx="155.8" cy="247.7" r="1.65"/><circle cx="148.5" cy="248.3" r="1.65"/><circle cx="141.6" cy="248.0" r="1.65"/><circle cx="156.9" cy="247.5" r="1.65"/><circle cx="145.6" cy="247.7" r="1.65"/><circle cx="151.9" cy="248.4" r="1.65"/><circle cx="145.0" cy="247.6" r="1.65"/><circle cx="146.5" cy="248.0" r="1.65"/><circle cx="150.2" cy="248.0" r="1.65"/><circle cx="145.3" cy="248.9" r="1.65"/><circle cx="156.3" cy="248.7" r="1.65"/><circle cx="149.5" cy="248.9" r="1.65"/><circle cx="151.5" cy="248.6" r="1.65"/><circle cx="157.2" cy="248.9" r="1.65"/><circle cx="133.3" cy="248.8" r="1.65"/><circle cx="142.1" cy="248.5" r="1.65"/><circle cx="142.6" cy="248.9" r="1.65"/><circle cx="149.8" cy="248.9" r="1.65"/><circle cx="138.6" cy="248.7" r="1.65"/><circle cx="150.9" cy="249.4" r="1.65"/><circle cx="145.4" cy="248.7" r="1.65"/><circle cx="152.5" cy="248.9" r="1.65"/><circle cx="137.3" cy="248.6" r="1.65"/><circle cx="151.8" cy="249.3" r="1.65"/><circle cx="148.2" cy="249.0" r="1.65"/><circle cx="146.3" cy="248.7" r="1.65"/><circle cx="156.7" cy="248.9" r="1.65"/><circle cx="148.3" cy="249.3" r="1.65"/><circle cx="139.7" cy="250.0" r="1.65"/><circle cx="135.4" cy="250.3" r="1.65"/><circle cx="141.2" cy="250.4" r="1.65"/><circle cx="139.0" cy="249.9" r="1.65"/><circle cx="138.6" cy="249.9" r="1.65"/><circle cx="136.9" cy="249.5" r="1.65"/><circle cx="150.5" cy="249.8" r="1.65"/><circle cx="138.4" cy="249.8" r="1.65"/><circle cx="144.4" cy="249.9" r="1.65"/><circle cx="148.4" cy="250.2" r="1.65"/><circle cx="141.4" cy="250.4" r="1.65"/><circle cx="153.9" cy="249.6" r="1.65"/><circle cx="153.2" cy="250.4" r="1.65"/><circle cx="152.1" cy="249.6" r="1.65"/><circle cx="153.3" cy="250.1" r="1.65"/><circle cx="132.6" cy="249.5" r="1.65"/><circle cx="156.4" cy="250.2" r="1.65"/><circle cx="138.6" cy="249.6" r="1.65"/><circle cx="135.8" cy="249.7" r="1.65"/><circle cx="136.4" cy="251.4" r="1.65"/><circle cx="152.4" cy="250.7" r="1.65"/><circle cx="154.9" cy="251.1" r="1.65"/><circle cx="152.1" cy="251.2" r="1.65"/><circle cx="154.9" cy="251.3" r="1.65"/><circle cx="153.6" cy="250.7" r="1.65"/><circle cx="149.9" cy="251.0" r="1.65"/><circle cx="151.1" cy="250.9" r="1.65"/><circle cx="154.7" cy="251.1" r="1.65"/><circle cx="139.2" cy="250.7" r="1.65"/><circle cx="136.1" cy="251.0" r="1.65"/><circle cx="134.1" cy="251.0" r="1.65"/><circle cx="136.2" cy="251.0" r="1.65"/><circle cx="145.1" cy="251.0" r="1.65"/><circle cx="154.2" cy="250.5" r="1.65"/><circle cx="153.6" cy="251.0" r="1.65"/><circle cx="146.7" cy="251.2" r="1.65"/><circle cx="153.6" cy="250.9" r="1.65"/><circle cx="143.1" cy="251.5" r="1.65"/><circle cx="129.6" cy="251.1" r="1.65"/><circle cx="148.0" cy="252.2" r="1.65"/><circle cx="155.9" cy="251.8" r="1.65"/><circle cx="157.2" cy="252.0" r="1.65"/><circle cx="144.9" cy="252.4" r="1.65"/><circle cx="133.8" cy="252.2" r="1.65"/><circle cx="148.4" cy="251.8" r="1.65"/><circle cx="154.2" cy="251.9" r="1.65"/><circle cx="144.7" cy="252.0" r="1.65"/><circle cx="152.0" cy="251.7" r="1.65"/><circle cx="143.7" cy="251.9" r="1.65"/><circle cx="146.6" cy="252.3" r="1.65"/><circle cx="140.2" cy="252.3" r="1.65"/><circle cx="142.9" cy="252.0" r="1.65"/><circle cx="139.7" cy="252.0" r="1.65"/><circle cx="157.0" cy="252.2" r="1.65"/><circle cx="152.5" cy="251.8" r="1.65"/><circle cx="140.8" cy="251.8" r="1.65"/><circle cx="147.4" cy="252.1" r="1.65"/><circle cx="152.3" cy="251.5" r="1.65"/><circle cx="146.8" cy="252.5" r="1.65"/><circle cx="141.0" cy="252.5" r="1.65"/><circle cx="138.3" cy="253.4" r="1.65"/><circle cx="148.3" cy="253.2" r="1.65"/><circle cx="152.6" cy="253.4" r="1.65"/><circle cx="148.4" cy="253.1" r="1.65"/><circle cx="148.7" cy="253.2" r="1.65"/><circle cx="148.0" cy="253.2" r="1.65"/><circle cx="138.9" cy="253.2" r="1.65"/><circle cx="144.7" cy="253.3" r="1.65"/><circle cx="136.2" cy="252.7" r="1.65"/><circle cx="134.7" cy="253.3" r="1.65"/><circle cx="155.6" cy="253.2" r="1.65"/><circle cx="142.6" cy="253.3" r="1.65"/><circle cx="152.5" cy="253.1" r="1.65"/><circle cx="140.0" cy="252.8" r="1.65"/><circle cx="143.9" cy="252.8" r="1.65"/><circle cx="156.1" cy="253.6" r="1.65"/><circle cx="147.7" cy="253.5" r="1.65"/><circle cx="137.4" cy="254.3" r="1.65"/><circle cx="147.9" cy="254.4" r="1.65"/><circle cx="144.9" cy="253.5" r="1.65"/><circle cx="143.5" cy="254.1" r="1.65"/><circle cx="156.2" cy="254.5" r="1.65"/><circle cx="145.6" cy="253.9" r="1.65"/><circle cx="137.0" cy="254.1" r="1.65"/><circle cx="139.5" cy="253.7" r="1.65"/><circle cx="135.0" cy="253.5" r="1.65"/><circle cx="150.3" cy="253.6" r="1.65"/><circle cx="156.8" cy="253.6" r="1.65"/><circle cx="154.6" cy="253.6" r="1.65"/><circle cx="135.1" cy="254.2" r="1.65"/><circle cx="140.2" cy="254.2" r="1.65"/><circle cx="139.0" cy="253.6" r="1.65"/><circle cx="154.4" cy="255.2" r="1.65"/><circle cx="137.4" cy="255.1" r="1.65"/><circle cx="151.2" cy="255.0" r="1.65"/><circle cx="156.1" cy="254.8" r="1.65"/><circle cx="156.8" cy="255.2" r="1.65"/><circle cx="135.8" cy="254.5" r="1.65"/><circle cx="149.9" cy="255.3" r="1.65"/><circle cx="137.3" cy="254.8" r="1.65"/><circle cx="151.6" cy="254.7" r="1.65"/><circle cx="154.5" cy="255.0" r="1.65"/><circle cx="136.8" cy="254.9" r="1.65"/><circle cx="148.2" cy="254.9" r="1.65"/><circle cx="150.5" cy="254.6" r="1.65"/><circle cx="153.1" cy="254.9" r="1.65"/><circle cx="149.8" cy="255.1" r="1.65"/><circle cx="144.7" cy="254.9" r="1.65"/><circle cx="153.0" cy="256.1" r="1.65"/><circle cx="142.6" cy="255.6" r="1.65"/><circle cx="157.0" cy="256.2" r="1.65"/><circle cx="153.9" cy="255.8" r="1.65"/><circle cx="149.2" cy="256.5" r="1.65"/><circle cx="154.0" cy="256.1" r="1.65"/><circle cx="142.9" cy="255.9" r="1.65"/><circle cx="155.2" cy="255.9" r="1.65"/><circle cx="150.9" cy="256.1" r="1.65"/><circle cx="155.4" cy="256.3" r="1.65"/><circle cx="142.4" cy="255.5" r="1.65"/><circle cx="141.9" cy="255.9" r="1.65"/><circle cx="148.8" cy="256.3" r="1.65"/><circle cx="155.2" cy="255.5" r="1.65"/><circle cx="154.1" cy="256.3" r="1.65"/><circle cx="154.8" cy="256.1" r="1.65"/><circle cx="153.7" cy="257.2" r="1.65"/><circle cx="155.8" cy="256.8" r="1.65"/><circle cx="138.9" cy="257.1" r="1.65"/><circle cx="153.5" cy="256.7" r="1.65"/><circle cx="152.5" cy="257.4" r="1.65"/><circle cx="141.9" cy="257.1" r="1.65"/><circle cx="151.0" cy="257.0" r="1.65"/><circle cx="141.4" cy="256.8" r="1.65"/><circle cx="152.5" cy="257.3" r="1.65"/><circle cx="146.6" cy="256.6" r="1.65"/><circle cx="153.6" cy="257.3" r="1.65"/><circle cx="141.9" cy="257.1" r="1.65"/><circle cx="155.5" cy="257.4" r="1.65"/><circle cx="147.8" cy="257.0" r="1.65"/><circle cx="149.2" cy="256.7" r="1.65"/><circle cx="151.7" cy="257.9" r="1.65"/><circle cx="149.1" cy="257.9" r="1.65"/><circle cx="148.1" cy="257.6" r="1.65"/><circle cx="138.9" cy="258.5" r="1.65"/><circle cx="145.3" cy="257.6" r="1.65"/><circle cx="150.4" cy="258.3" r="1.65"/><circle cx="141.1" cy="258.1" r="1.65"/><circle cx="144.8" cy="258.0" r="1.65"/><circle cx="138.4" cy="257.5" r="1.65"/><circle cx="157.4" cy="258.4" r="1.65"/><circle cx="147.5" cy="258.1" r="1.65"/><circle cx="143.1" cy="258.3" r="1.65"/><circle cx="146.3" cy="258.4" r="1.65"/><circle cx="153.0" cy="258.3" r="1.65"/><circle cx="156.9" cy="257.8" r="1.65"/><circle cx="142.2" cy="258.6" r="1.65"/><circle cx="139.7" cy="259.1" r="1.65"/><circle cx="155.2" cy="259.0" r="1.65"/><circle cx="156.6" cy="259.4" r="1.65"/><circle cx="140.0" cy="259.1" r="1.65"/><circle cx="146.2" cy="258.6" r="1.65"/><circle cx="156.8" cy="258.8" r="1.65"/><circle cx="149.4" cy="259.1" r="1.65"/><circle cx="156.8" cy="259.2" r="1.65"/><circle cx="146.2" cy="258.9" r="1.65"/><circle cx="141.8" cy="259.5" r="1.65"/><circle cx="157.4" cy="258.7" r="1.65"/><circle cx="139.5" cy="258.8" r="1.65"/><circle cx="145.4" cy="259.4" r="1.65"/><circle cx="157.6" cy="186.3" r="1.65"/><circle cx="157.6" cy="192.8" r="1.65"/><circle cx="157.6" cy="194.1" r="1.65"/><circle cx="157.6" cy="199.3" r="1.65"/><circle cx="157.6" cy="200.6" r="1.65"/><circle cx="157.6" cy="203.2" r="1.65"/><circle cx="157.6" cy="204.5" r="1.65"/><circle cx="157.6" cy="205.8" r="1.65"/><circle cx="157.6" cy="207.1" r="1.65"/><circle cx="157.6" cy="208.4" r="1.65"/><circle cx="157.6" cy="209.7" r="1.65"/><circle cx="157.6" cy="211.0" r="1.65"/><circle cx="157.6" cy="212.3" r="1.65"/><circle cx="157.6" cy="213.6" r="1.65"/><circle cx="157.6" cy="214.9" r="1.65"/><circle cx="157.6" cy="216.2" r="1.65"/><circle cx="156.4" cy="216.8" r="1.65"/><circle cx="157.6" cy="217.5" r="1.65"/><circle cx="156.4" cy="218.1" r="1.65"/><circle cx="157.6" cy="218.8" r="1.65"/><circle cx="156.4" cy="219.4" r="1.65"/><circle cx="157.6" cy="220.1" r="1.65"/><circle cx="156.4" cy="220.7" r="1.65"/><circle cx="157.6" cy="221.4" r="1.65"/><circle cx="156.4" cy="222.0" r="1.65"/><circle cx="157.6" cy="222.7" r="1.65"/><circle cx="156.4" cy="223.3" r="1.65"/><circle cx="157.6" cy="224.0" r="1.65"/><circle cx="156.4" cy="224.6" r="1.65"/><circle cx="157.6" cy="225.3" r="1.65"/><circle cx="156.4" cy="225.9" r="1.65"/><circle cx="157.6" cy="226.6" r="1.65"/><circle cx="156.4" cy="227.2" r="1.65"/><circle cx="157.6" cy="227.9" r="1.65"/><circle cx="156.4" cy="228.5" r="1.65"/><circle cx="157.6" cy="229.2" r="1.65"/><circle cx="156.4" cy="229.8" r="1.65"/><circle cx="157.6" cy="230.5" r="1.65"/><circle cx="156.4" cy="231.1" r="1.65"/><circle cx="157.6" cy="231.8" r="1.65"/><circle cx="156.4" cy="232.4" r="1.65"/><circle cx="157.6" cy="233.1" r="1.65"/><circle cx="156.4" cy="233.7" r="1.65"/><circle cx="157.6" cy="234.4" r="1.65"/><circle cx="156.4" cy="235.0" r="1.65"/><circle cx="157.6" cy="235.7" r="1.65"/><circle cx="156.4" cy="236.3" r="1.65"/><circle cx="157.6" cy="237.0" r="1.65"/><circle cx="156.4" cy="237.6" r="1.65"/><circle cx="157.6" cy="238.3" r="1.65"/><circle cx="156.4" cy="238.9" r="1.65"/><circle cx="157.6" cy="239.6" r="1.65"/><circle cx="156.4" cy="240.2" r="1.65"/><circle cx="157.6" cy="240.9" r="1.65"/><circle cx="156.4" cy="241.5" r="1.65"/><circle cx="157.6" cy="242.2" r="1.65"/><circle cx="156.4" cy="242.8" r="1.65"/><circle cx="157.6" cy="243.5" r="1.65"/><circle cx="156.4" cy="244.1" r="1.65"/><circle cx="157.6" cy="244.8" r="1.65"/><circle cx="156.4" cy="245.4" r="1.65"/><circle cx="157.6" cy="246.1" r="1.65"/><circle cx="156.4" cy="246.7" r="1.65"/><circle cx="157.6" cy="247.4" r="1.65"/><circle cx="156.4" cy="248.0" r="1.65"/><circle cx="157.6" cy="248.7" r="1.65"/><circle cx="156.4" cy="249.3" r="1.65"/><circle cx="157.6" cy="250.0" r="1.65"/><circle cx="156.4" cy="250.6" r="1.65"/><circle cx="157.6" cy="251.3" r="1.65"/><circle cx="156.4" cy="251.9" r="1.65"/><circle cx="157.6" cy="252.6" r="1.65"/><circle cx="156.4" cy="253.2" r="1.65"/><circle cx="157.6" cy="253.9" r="1.65"/><circle cx="156.4" cy="254.5" r="1.65"/><circle cx="157.6" cy="255.2" r="1.65"/><circle cx="156.4" cy="255.8" r="1.65"/><circle cx="157.6" cy="256.5" r="1.65"/><circle cx="156.4" cy="257.1" r="1.65"/><circle cx="157.6" cy="257.8" r="1.65"/><circle cx="156.4" cy="258.4" r="1.65"/><circle cx="157.6" cy="259.1" r="1.65"/><circle cx="156.4" cy="259.7" r="1.65"/></g>
<g fill="#ee0000"><circle cx="227.5" cy="122.8" r="1.65"/><circle cx="227.5" cy="127.8" r="1.65"/><circle cx="255.2" cy="127.5" r="1.65"/><circle cx="300.7" cy="120.2" r="1.65"/><circle cx="213.8" cy="138.5" r="1.65"/><circle cx="225.0" cy="151.2" r="1.65"/><circle cx="230.2" cy="150.8" r="1.65"/><circle cx="232.5" cy="154.2" r="1.65"/><circle cx="216.2" cy="155.2" r="1.65"/><circle cx="220.0" cy="156.2" r="1.65"/><circle cx="219.0" cy="163.2" r="1.65"/><circle cx="225.0" cy="165.8" r="1.65"/><circle cx="223.8" cy="167.5" r="1.65"/><circle cx="226.2" cy="168.0" r="1.65"/><circle cx="229.5" cy="165.0" r="1.65"/><circle cx="230.5" cy="164.2" r="1.65"/><circle cx="241.5" cy="165.8" r="1.65"/><circle cx="269.0" cy="164.5" r="1.65"/><circle cx="270.0" cy="163.2" r="1.65"/><circle cx="301.6" cy="154.7" r="1.65"/><circle cx="305.5" cy="164.3" r="1.65"/><circle cx="295.6" cy="169.4" r="1.65"/><circle cx="218.9" cy="163.4" r="1.65"/><circle cx="224.9" cy="165.2" r="1.65"/><circle cx="223.7" cy="167.7" r="1.65"/><circle cx="225.9" cy="168.3" r="1.65"/><circle cx="225.6" cy="171.3" r="1.65"/><circle cx="230.0" cy="164.3" r="1.65"/><circle cx="230.7" cy="163.8" r="1.65"/><circle cx="208.9" cy="169.3" r="1.65"/><circle cx="218.0" cy="177.5" r="1.65"/><circle cx="220.8" cy="178.2" r="1.65"/><circle cx="202.9" cy="180.0" r="1.65"/><circle cx="236.4" cy="181.0" r="1.65"/><circle cx="206.7" cy="183.7" r="1.65"/><circle cx="205.8" cy="186.6" r="1.65"/><circle cx="221.6" cy="184.4" r="1.65"/><circle cx="224.5" cy="183.4" r="1.65"/><circle cx="225.9" cy="185.4" r="1.65"/><circle cx="231.4" cy="183.6" r="1.65"/><circle cx="210.3" cy="191.1" r="1.65"/><circle cx="213.5" cy="193.2" r="1.65"/><circle cx="227.6" cy="191.5" r="1.65"/><circle cx="203.9" cy="194.4" r="1.65"/><circle cx="224.0" cy="194.4" r="1.65"/><circle cx="223.7" cy="196.1" r="1.65"/><circle cx="202.5" cy="198.2" r="1.65"/><circle cx="203.0" cy="200.6" r="1.65"/><circle cx="205.3" cy="202.1" r="1.65"/><circle cx="212.0" cy="199.5" r="1.65"/><circle cx="210.8" cy="200.6" r="1.65"/><circle cx="220.6" cy="198.2" r="1.65"/><circle cx="222.0" cy="199.9" r="1.65"/><circle cx="226.8" cy="198.5" r="1.65"/><circle cx="225.6" cy="199.9" r="1.65"/><circle cx="231.9" cy="198.7" r="1.65"/><circle cx="218.0" cy="202.0" r="1.65"/><circle cx="221.4" cy="203.3" r="1.65"/><circle cx="224.5" cy="203.0" r="1.65"/><circle cx="226.3" cy="205.0" r="1.65"/><circle cx="222.5" cy="206.8" r="1.65"/><circle cx="209.1" cy="207.6" r="1.65"/><circle cx="198.4" cy="208.5" r="1.65"/><circle cx="202.2" cy="209.0" r="1.65"/><circle cx="203.6" cy="210.2" r="1.65"/><circle cx="205.3" cy="209.9" r="1.65"/><circle cx="227.1" cy="208.5" r="1.65"/><circle cx="231.8" cy="209.0" r="1.65"/><circle cx="218.5" cy="211.6" r="1.65"/><circle cx="221.1" cy="212.4" r="1.65"/><circle cx="227.5" cy="211.2" r="1.65"/><circle cx="196.3" cy="214.7" r="1.65"/><circle cx="199.3" cy="214.0" r="1.65"/><circle cx="206.5" cy="214.2" r="1.65"/><circle cx="266.0" cy="180.8" r="1.65"/><circle cx="293.1" cy="182.2" r="1.65"/><circle cx="247.4" cy="194.1" r="1.65"/><circle cx="256.5" cy="194.4" r="1.65"/><circle cx="272.2" cy="192.7" r="1.65"/><circle cx="285.9" cy="192.9" r="1.65"/><circle cx="282.7" cy="199.4" r="1.65"/><circle cx="251.7" cy="202.3" r="1.65"/><circle cx="260.0" cy="205.6" r="1.65"/><circle cx="272.2" cy="207.6" r="1.65"/><circle cx="292.8" cy="206.3" r="1.65"/><circle cx="291.3" cy="209.9" r="1.65"/><circle cx="292.8" cy="210.2" r="1.65"/><circle cx="252.4" cy="213.0" r="1.65"/><circle cx="257.5" cy="212.5" r="1.65"/><circle cx="281.8" cy="214.4" r="1.65"/><circle cx="293.8" cy="214.7" r="1.65"/><circle cx="311.9" cy="203.5" r="1.65"/><circle cx="295.0" cy="214.8" r="1.65"/><circle cx="295.0" cy="222.4" r="1.65"/><circle cx="300.7" cy="227.5" r="1.65"/><circle cx="305.1" cy="229.1" r="1.65"/><circle cx="314.1" cy="231.5" r="1.65"/><circle cx="325.9" cy="229.8" r="1.65"/><circle cx="296.9" cy="230.6" r="1.65"/><circle cx="298.4" cy="230.0" r="1.65"/><circle cx="299.8" cy="233.4" r="1.65"/><circle cx="296.5" cy="236.3" r="1.65"/><circle cx="305.7" cy="235.7" r="1.65"/><circle cx="301.1" cy="238.2" r="1.65"/><circle cx="307.6" cy="239.5" r="1.65"/><circle cx="295.6" cy="239.5" r="1.65"/><circle cx="302.6" cy="246.8" r="1.65"/><circle cx="340.0" cy="247.2" r="1.65"/><circle cx="295.0" cy="251.0" r="1.65"/><circle cx="298.8" cy="255.4" r="1.65"/><circle cx="297.3" cy="256.7" r="1.65"/><circle cx="309.9" cy="256.1" r="1.65"/><circle cx="317.9" cy="256.1" r="1.65"/><circle cx="316.3" cy="260.5" r="1.65"/><circle cx="300.7" cy="259.9" r="1.65"/><circle cx="302.6" cy="260.7" r="1.65"/><circle cx="296.5" cy="261.5" r="1.65"/><circle cx="188.0" cy="241.7" r="1.65"/><circle cx="188.0" cy="242.2" r="1.65"/><circle cx="188.0" cy="258.1" r="1.65"/><circle cx="188.0" cy="257.3" r="1.65"/><circle cx="188.0" cy="247.7" r="1.65"/><circle cx="188.0" cy="251.6" r="1.65"/><circle cx="188.0" cy="248.4" r="1.65"/><circle cx="188.0" cy="241.1" r="1.65"/><circle cx="188.0" cy="250.0" r="1.65"/><circle cx="188.0" cy="256.9" r="1.65"/><circle cx="189.0" cy="243.0" r="1.65"/><circle cx="189.0" cy="251.4" r="1.65"/><circle cx="188.7" cy="241.8" r="1.65"/><circle cx="189.4" cy="237.1" r="1.65"/><circle cx="188.5" cy="243.2" r="1.65"/><circle cx="188.7" cy="255.5" r="1.65"/><circle cx="188.6" cy="240.1" r="1.65"/><circle cx="188.6" cy="252.5" r="1.65"/><circle cx="190.2" cy="234.5" r="1.65"/><circle cx="189.7" cy="253.7" r="1.65"/><circle cx="189.6" cy="240.9" r="1.65"/><circle cx="190.3" cy="253.7" r="1.65"/><circle cx="189.5" cy="255.4" r="1.65"/><circle cx="190.4" cy="256.9" r="1.65"/><circle cx="190.3" cy="236.4" r="1.65"/><circle cx="189.9" cy="239.6" r="1.65"/><circle cx="190.0" cy="246.9" r="1.65"/><circle cx="189.6" cy="242.1" r="1.65"/><circle cx="190.2" cy="255.4" r="1.65"/><circle cx="189.6" cy="240.1" r="1.65"/><circle cx="190.0" cy="243.7" r="1.65"/><circle cx="190.5" cy="245.0" r="1.65"/><circle cx="189.6" cy="235.1" r="1.65"/><circle cx="190.2" cy="229.0" r="1.65"/><circle cx="190.1" cy="234.2" r="1.65"/><circle cx="190.2" cy="246.3" r="1.65"/><circle cx="189.6" cy="250.7" r="1.65"/><circle cx="189.8" cy="243.6" r="1.65"/><circle cx="191.1" cy="254.6" r="1.65"/><circle cx="191.3" cy="250.4" r="1.65"/><circle cx="190.9" cy="257.4" r="1.65"/><circle cx="190.9" cy="253.8" r="1.65"/><circle cx="190.8" cy="235.4" r="1.65"/><circle cx="191.1" cy="232.1" r="1.65"/><circle cx="190.6" cy="236.4" r="1.65"/><circle cx="190.5" cy="238.9" r="1.65"/><circle cx="190.8" cy="232.8" r="1.65"/><circle cx="191.0" cy="245.8" r="1.65"/><circle cx="191.1" cy="233.6" r="1.65"/><circle cx="190.8" cy="258.1" r="1.65"/><circle cx="190.6" cy="240.1" r="1.65"/><circle cx="190.8" cy="227.5" r="1.65"/><circle cx="192.0" cy="228.1" r="1.65"/><circle cx="192.1" cy="253.0" r="1.65"/><circle cx="192.2" cy="245.1" r="1.65"/><circle cx="192.1" cy="237.2" r="1.65"/><circle cx="191.7" cy="237.6" r="1.65"/><circle cx="191.9" cy="227.2" r="1.65"/><circle cx="191.9" cy="242.4" r="1.65"/><circle cx="192.1" cy="253.9" r="1.65"/><circle cx="192.5" cy="238.5" r="1.65"/><circle cx="192.4" cy="224.6" r="1.65"/><circle cx="191.9" cy="236.3" r="1.65"/><circle cx="191.6" cy="236.3" r="1.65"/><circle cx="191.8" cy="248.8" r="1.65"/><circle cx="192.1" cy="232.7" r="1.65"/><circle cx="192.2" cy="239.6" r="1.65"/><circle cx="192.3" cy="249.7" r="1.65"/><circle cx="192.5" cy="242.4" r="1.65"/><circle cx="192.3" cy="241.9" r="1.65"/><circle cx="191.9" cy="254.4" r="1.65"/><circle cx="192.2" cy="236.9" r="1.65"/><circle cx="192.1" cy="230.2" r="1.65"/><circle cx="192.3" cy="234.0" r="1.65"/><circle cx="191.9" cy="253.4" r="1.65"/><circle cx="191.6" cy="225.7" r="1.65"/><circle cx="191.6" cy="242.0" r="1.65"/><circle cx="192.3" cy="256.4" r="1.65"/><circle cx="192.5" cy="255.9" r="1.65"/><circle cx="193.4" cy="241.3" r="1.65"/><circle cx="193.5" cy="250.1" r="1.65"/><circle cx="193.2" cy="239.3" r="1.65"/><circle cx="193.1" cy="233.8" r="1.65"/><circle cx="192.6" cy="246.0" r="1.65"/><circle cx="193.1" cy="233.2" r="1.65"/><circle cx="192.9" cy="258.2" r="1.65"/><circle cx="193.3" cy="231.9" r="1.65"/><circle cx="193.5" cy="224.6" r="1.65"/><circle cx="192.6" cy="252.3" r="1.65"/><circle cx="193.3" cy="255.2" r="1.65"/><circle cx="192.8" cy="235.2" r="1.65"/><circle cx="192.7" cy="239.0" r="1.65"/><circle cx="193.1" cy="225.1" r="1.65"/><circle cx="192.9" cy="244.3" r="1.65"/><circle cx="193.2" cy="250.7" r="1.65"/><circle cx="193.2" cy="253.0" r="1.65"/><circle cx="193.1" cy="225.7" r="1.65"/><circle cx="193.0" cy="228.6" r="1.65"/><circle cx="192.9" cy="259.6" r="1.65"/><circle cx="193.3" cy="222.5" r="1.65"/><circle cx="192.7" cy="221.9" r="1.65"/><circle cx="193.3" cy="220.0" r="1.65"/><circle cx="192.9" cy="231.0" r="1.65"/><circle cx="193.9" cy="241.7" r="1.65"/><circle cx="194.4" cy="233.3" r="1.65"/><circle cx="193.7" cy="235.6" r="1.65"/><circle cx="194.4" cy="253.4" r="1.65"/><circle cx="194.1" cy="251.8" r="1.65"/><circle cx="194.4" cy="258.0" r="1.65"/><circle cx="194.2" cy="227.1" r="1.65"/><circle cx="194.4" cy="226.2" r="1.65"/><circle cx="193.9" cy="227.1" r="1.65"/><circle cx="193.6" cy="229.2" r="1.65"/><circle cx="193.9" cy="239.6" r="1.65"/><circle cx="194.3" cy="219.5" r="1.65"/><circle cx="193.7" cy="231.8" r="1.65"/><circle cx="193.5" cy="228.9" r="1.65"/><circle cx="193.7" cy="245.3" r="1.65"/><circle cx="193.8" cy="247.0" r="1.65"/><circle cx="193.9" cy="252.6" r="1.65"/><circle cx="194.2" cy="223.5" r="1.65"/><circle cx="194.0" cy="238.4" r="1.65"/><circle cx="193.7" cy="242.0" r="1.65"/><circle cx="194.4" cy="242.8" r="1.65"/><circle cx="194.0" cy="222.0" r="1.65"/><circle cx="194.1" cy="233.2" r="1.65"/><circle cx="195.4" cy="219.8" r="1.65"/><circle cx="194.6" cy="230.0" r="1.65"/><circle cx="195.0" cy="240.6" r="1.65"/><circle cx="194.8" cy="229.0" r="1.65"/><circle cx="195.2" cy="225.9" r="1.65"/><circle cx="195.4" cy="228.3" r="1.65"/><circle cx="194.8" cy="253.6" r="1.65"/><circle cx="194.9" cy="245.0" r="1.65"/><circle cx="194.7" cy="244.8" r="1.65"/><circle cx="195.1" cy="253.0" r="1.65"/><circle cx="195.4" cy="223.9" r="1.65"/><circle cx="194.5" cy="248.1" r="1.65"/><circle cx="194.7" cy="217.7" r="1.65"/><circle cx="194.5" cy="229.2" r="1.65"/><circle cx="194.7" cy="229.6" r="1.65"/><circle cx="195.2" cy="252.7" r="1.65"/><circle cx="195.2" cy="227.1" r="1.65"/><circle cx="195.3" cy="231.3" r="1.65"/><circle cx="194.5" cy="249.9" r="1.65"/><circle cx="194.5" cy="253.3" r="1.65"/><circle cx="195.3" cy="226.7" r="1.65"/><circle cx="195.2" cy="248.8" r="1.65"/><circle cx="195.3" cy="233.2" r="1.65"/><circle cx="195.4" cy="228.3" r="1.65"/><circle cx="195.3" cy="246.2" r="1.65"/><circle cx="194.6" cy="243.4" r="1.65"/><circle cx="195.0" cy="246.5" r="1.65"/><circle cx="195.3" cy="256.6" r="1.65"/><circle cx="195.0" cy="251.2" r="1.65"/><circle cx="195.6" cy="241.0" r="1.65"/><circle cx="195.7" cy="233.3" r="1.65"/><circle cx="196.2" cy="231.4" r="1.65"/><circle cx="195.7" cy="246.2" r="1.65"/><circle cx="196.4" cy="239.8" r="1.65"/><circle cx="196.4" cy="233.1" r="1.65"/><circle cx="195.8" cy="224.5" r="1.65"/><circle cx="196.3" cy="252.1" r="1.65"/><circle cx="196.1" cy="225.6" r="1.65"/><circle cx="196.3" cy="237.6" r="1.65"/><circle cx="195.9" cy="223.4" r="1.65"/><circle cx="195.8" cy="227.1" r="1.65"/><circle cx="195.9" cy="226.8" r="1.65"/><circle cx="196.0" cy="223.3" r="1.65"/><circle cx="195.6" cy="233.6" r="1.65"/><circle cx="196.2" cy="249.5" r="1.65"/><circle cx="195.6" cy="258.9" r="1.65"/><circle cx="195.7" cy="238.7" r="1.65"/><circle cx="196.4" cy="241.0" r="1.65"/><circle cx="196.4" cy="245.1" r="1.65"/><circle cx="195.7" cy="245.4" r="1.65"/><circle cx="196.3" cy="224.4" r="1.65"/><circle cx="195.7" cy="253.1" r="1.65"/><circle cx="196.3" cy="256.7" r="1.65"/><circle cx="195.8" cy="252.7" r="1.65"/><circle cx="196.1" cy="231.8" r="1.65"/><circle cx="196.1" cy="228.5" r="1.65"/><circle cx="197.0" cy="257.6" r="1.65"/><circle cx="197.1" cy="227.4" r="1.65"/><circle cx="197.5" cy="227.6" r="1.65"/><circle cx="196.9" cy="224.8" r="1.65"/><circle cx="197.2" cy="237.7" r="1.65"/><circle cx="196.8" cy="241.1" r="1.65"/><circle cx="197.3" cy="238.2" r="1.65"/><circle cx="196.8" cy="256.0" r="1.65"/><circle cx="196.8" cy="238.3" r="1.65"/><circle cx="196.8" cy="228.8" r="1.65"/><circle cx="197.1" cy="244.7" r="1.65"/><circle cx="197.1" cy="257.9" r="1.65"/><circle cx="197.4" cy="232.8" r="1.65"/><circle cx="197.2" cy="222.4" r="1.65"/><circle cx="197.2" cy="238.5" r="1.65"/><circle cx="196.9" cy="235.6" r="1.65"/><circle cx="196.9" cy="241.7" r="1.65"/><circle cx="197.4" cy="225.7" r="1.65"/><circle cx="197.4" cy="242.4" r="1.65"/><circle cx="197.0" cy="231.1" r="1.65"/><circle cx="197.1" cy="218.4" r="1.65"/><circle cx="198.0" cy="244.4" r="1.65"/><circle cx="197.9" cy="245.0" r="1.65"/><circle cx="198.2" cy="254.8" r="1.65"/><circle cx="198.5" cy="251.0" r="1.65"/><circle cx="198.3" cy="249.8" r="1.65"/><circle cx="198.5" cy="238.0" r="1.65"/><circle cx="197.9" cy="226.1" r="1.65"/><circle cx="198.2" cy="231.6" r="1.65"/><circle cx="198.2" cy="255.1" r="1.65"/><circle cx="198.2" cy="236.2" r="1.65"/><circle cx="197.9" cy="253.5" r="1.65"/><circle cx="198.1" cy="249.8" r="1.65"/><circle cx="198.4" cy="252.7" r="1.65"/><circle cx="197.7" cy="248.1" r="1.65"/><circle cx="197.5" cy="244.8" r="1.65"/><circle cx="197.8" cy="230.6" r="1.65"/><circle cx="197.6" cy="248.5" r="1.65"/><circle cx="198.8" cy="258.0" r="1.65"/><circle cx="199.4" cy="231.9" r="1.65"/><circle cx="198.7" cy="253.2" r="1.65"/><circle cx="198.9" cy="253.8" r="1.65"/><circle cx="199.3" cy="242.6" r="1.65"/><circle cx="198.8" cy="247.0" r="1.65"/><circle cx="198.7" cy="246.3" r="1.65"/><circle cx="199.1" cy="238.8" r="1.65"/><circle cx="198.5" cy="239.7" r="1.65"/><circle cx="198.5" cy="245.9" r="1.65"/><circle cx="199.2" cy="228.5" r="1.65"/><circle cx="199.0" cy="235.9" r="1.65"/><circle cx="199.0" cy="235.6" r="1.65"/><circle cx="199.1" cy="252.3" r="1.65"/><circle cx="199.3" cy="238.9" r="1.65"/><circle cx="199.3" cy="249.3" r="1.65"/><circle cx="199.1" cy="251.2" r="1.65"/><circle cx="198.9" cy="222.4" r="1.65"/><circle cx="200.5" cy="240.0" r="1.65"/><circle cx="199.7" cy="244.3" r="1.65"/><circle cx="199.6" cy="237.0" r="1.65"/><circle cx="200.1" cy="243.5" r="1.65"/><circle cx="199.6" cy="239.0" r="1.65"/><circle cx="200.2" cy="239.0" r="1.65"/><circle cx="199.7" cy="247.3" r="1.65"/><circle cx="199.8" cy="256.7" r="1.65"/><circle cx="199.8" cy="230.7" r="1.65"/><circle cx="199.9" cy="250.9" r="1.65"/><circle cx="200.4" cy="236.0" r="1.65"/><circle cx="200.2" cy="249.2" r="1.65"/><circle cx="199.6" cy="258.6" r="1.65"/><circle cx="199.7" cy="240.1" r="1.65"/><circle cx="199.7" cy="229.1" r="1.65"/><circle cx="200.9" cy="253.0" r="1.65"/><circle cx="200.6" cy="251.1" r="1.65"/><circle cx="201.1" cy="244.1" r="1.65"/><circle cx="201.1" cy="241.9" r="1.65"/><circle cx="200.5" cy="239.9" r="1.65"/><circle cx="201.5" cy="257.7" r="1.65"/><circle cx="200.6" cy="252.3" r="1.65"/><circle cx="201.3" cy="237.2" r="1.65"/><circle cx="201.1" cy="244.3" r="1.65"/><circle cx="201.1" cy="247.8" r="1.65"/><circle cx="200.8" cy="241.8" r="1.65"/><circle cx="201.3" cy="252.0" r="1.65"/><circle cx="200.8" cy="259.1" r="1.65"/><circle cx="201.0" cy="236.5" r="1.65"/><circle cx="200.6" cy="212.3" r="1.65"/><circle cx="201.0" cy="214.2" r="1.65"/><circle cx="201.7" cy="244.7" r="1.65"/><circle cx="202.3" cy="239.8" r="1.65"/><circle cx="201.8" cy="247.8" r="1.65"/><circle cx="201.8" cy="255.0" r="1.65"/><circle cx="202.2" cy="257.4" r="1.65"/><circle cx="201.7" cy="258.4" r="1.65"/><circle cx="201.9" cy="242.0" r="1.65"/><circle cx="202.3" cy="241.5" r="1.65"/><circle cx="202.5" cy="251.2" r="1.65"/><circle cx="202.3" cy="222.6" r="1.65"/><circle cx="201.8" cy="233.4" r="1.65"/><circle cx="203.1" cy="250.2" r="1.65"/><circle cx="203.4" cy="256.9" r="1.65"/><circle cx="203.4" cy="256.5" r="1.65"/><circle cx="202.5" cy="259.6" r="1.65"/><circle cx="203.2" cy="238.4" r="1.65"/><circle cx="203.4" cy="238.2" r="1.65"/><circle cx="202.7" cy="259.2" r="1.65"/><circle cx="202.5" cy="254.8" r="1.65"/><circle cx="202.9" cy="248.0" r="1.65"/><circle cx="203.5" cy="238.6" r="1.65"/><circle cx="202.6" cy="227.7" r="1.65"/><circle cx="202.7" cy="226.5" r="1.65"/><circle cx="203.9" cy="247.9" r="1.65"/><circle cx="204.5" cy="244.4" r="1.65"/><circle cx="203.8" cy="256.9" r="1.65"/><circle cx="203.6" cy="240.3" r="1.65"/><circle cx="203.9" cy="245.8" r="1.65"/><circle cx="204.0" cy="251.5" r="1.65"/><circle cx="203.9" cy="256.7" r="1.65"/><circle cx="204.5" cy="243.7" r="1.65"/><circle cx="203.9" cy="245.3" r="1.65"/><circle cx="204.1" cy="258.0" r="1.65"/><circle cx="203.7" cy="245.0" r="1.65"/><circle cx="204.3" cy="233.9" r="1.65"/><circle cx="203.5" cy="234.9" r="1.65"/><circle cx="205.0" cy="243.8" r="1.65"/><circle cx="205.1" cy="256.3" r="1.65"/><circle cx="205.1" cy="259.6" r="1.65"/><circle cx="205.2" cy="253.7" r="1.65"/><circle cx="205.1" cy="245.5" r="1.65"/><circle cx="205.1" cy="252.1" r="1.65"/><circle cx="205.1" cy="249.0" r="1.65"/><circle cx="205.0" cy="247.3" r="1.65"/><circle cx="204.6" cy="247.4" r="1.65"/><circle cx="205.0" cy="258.0" r="1.65"/><circle cx="205.3" cy="241.8" r="1.65"/><circle cx="205.3" cy="247.0" r="1.65"/><circle cx="204.6" cy="233.6" r="1.65"/><circle cx="204.8" cy="219.4" r="1.65"/><circle cx="205.6" cy="248.5" r="1.65"/><circle cx="206.0" cy="252.6" r="1.65"/><circle cx="205.6" cy="255.0" r="1.65"/><circle cx="206.0" cy="252.2" r="1.65"/><circle cx="205.8" cy="241.9" r="1.65"/><circle cx="205.7" cy="245.2" r="1.65"/><circle cx="205.7" cy="249.7" r="1.65"/><circle cx="205.8" cy="253.1" r="1.65"/><circle cx="205.9" cy="256.4" r="1.65"/><circle cx="205.9" cy="254.8" r="1.65"/><circle cx="205.8" cy="244.9" r="1.65"/><circle cx="206.3" cy="245.9" r="1.65"/><circle cx="206.1" cy="244.6" r="1.65"/><circle cx="206.5" cy="220.7" r="1.65"/><circle cx="205.9" cy="232.0" r="1.65"/><circle cx="207.3" cy="244.1" r="1.65"/><circle cx="207.0" cy="245.2" r="1.65"/><circle cx="206.5" cy="257.4" r="1.65"/><circle cx="207.0" cy="250.2" r="1.65"/><circle cx="207.0" cy="256.0" r="1.65"/><circle cx="207.0" cy="257.1" r="1.65"/><circle cx="206.9" cy="252.0" r="1.65"/><circle cx="207.3" cy="249.3" r="1.65"/><circle cx="206.6" cy="239.1" r="1.65"/><circle cx="206.6" cy="255.4" r="1.65"/><circle cx="206.6" cy="254.0" r="1.65"/><circle cx="207.0" cy="252.3" r="1.65"/><circle cx="207.5" cy="246.1" r="1.65"/><circle cx="207.0" cy="239.8" r="1.65"/><circle cx="206.8" cy="236.2" r="1.65"/><circle cx="206.8" cy="222.9" r="1.65"/><circle cx="208.0" cy="256.4" r="1.65"/><circle cx="207.8" cy="246.2" r="1.65"/><circle cx="207.7" cy="256.4" r="1.65"/><circle cx="208.0" cy="245.2" r="1.65"/><circle cx="208.3" cy="250.0" r="1.65"/><circle cx="207.8" cy="249.4" r="1.65"/><circle cx="208.1" cy="248.9" r="1.65"/><circle cx="208.3" cy="244.0" r="1.65"/><circle cx="208.0" cy="255.1" r="1.65"/><circle cx="208.4" cy="258.2" r="1.65"/><circle cx="208.4" cy="251.3" r="1.65"/><circle cx="208.0" cy="233.6" r="1.65"/><circle cx="208.2" cy="231.5" r="1.65"/><circle cx="208.6" cy="241.3" r="1.65"/><circle cx="208.8" cy="246.2" r="1.65"/><circle cx="208.7" cy="257.5" r="1.65"/><circle cx="209.1" cy="243.3" r="1.65"/><circle cx="208.7" cy="243.9" r="1.65"/><circle cx="209.3" cy="257.7" r="1.65"/><circle cx="208.5" cy="259.2" r="1.65"/><circle cx="208.7" cy="245.3" r="1.65"/><circle cx="209.0" cy="249.2" r="1.65"/><circle cx="209.2" cy="253.4" r="1.65"/><circle cx="209.0" cy="235.7" r="1.65"/><circle cx="210.0" cy="256.6" r="1.65"/><circle cx="209.8" cy="238.7" r="1.65"/><circle cx="210.4" cy="258.9" r="1.65"/><circle cx="209.8" cy="251.8" r="1.65"/><circle cx="210.2" cy="247.0" r="1.65"/><circle cx="210.1" cy="243.5" r="1.65"/><circle cx="210.0" cy="254.8" r="1.65"/><circle cx="210.2" cy="225.9" r="1.65"/><circle cx="209.7" cy="220.2" r="1.65"/><circle cx="210.6" cy="256.8" r="1.65"/><circle cx="211.0" cy="249.0" r="1.65"/><circle cx="210.7" cy="248.4" r="1.65"/><circle cx="210.6" cy="246.0" r="1.65"/><circle cx="210.7" cy="249.8" r="1.65"/><circle cx="210.8" cy="254.0" r="1.65"/><circle cx="211.4" cy="248.6" r="1.65"/><circle cx="211.3" cy="230.4" r="1.65"/><circle cx="210.6" cy="232.4" r="1.65"/><circle cx="211.6" cy="246.2" r="1.65"/><circle cx="211.8" cy="252.3" r="1.65"/><circle cx="211.7" cy="240.0" r="1.65"/><circle cx="212.3" cy="247.8" r="1.65"/><circle cx="212.1" cy="257.6" r="1.65"/><circle cx="212.5" cy="244.8" r="1.65"/><circle cx="211.6" cy="233.0" r="1.65"/><circle cx="212.4" cy="234.3" r="1.65"/><circle cx="212.9" cy="255.2" r="1.65"/><circle cx="213.5" cy="256.8" r="1.65"/><circle cx="213.3" cy="254.8" r="1.65"/><circle cx="213.0" cy="242.2" r="1.65"/><circle cx="213.4" cy="242.3" r="1.65"/><circle cx="212.9" cy="252.5" r="1.65"/><circle cx="212.6" cy="255.7" r="1.65"/><circle cx="213.3" cy="244.6" r="1.65"/><circle cx="213.0" cy="255.0" r="1.65"/><circle cx="213.3" cy="237.2" r="1.65"/><circle cx="213.0" cy="230.7" r="1.65"/><circle cx="212.7" cy="225.3" r="1.65"/><circle cx="213.8" cy="256.2" r="1.65"/><circle cx="214.2" cy="238.9" r="1.65"/><circle cx="214.3" cy="247.0" r="1.65"/><circle cx="214.5" cy="241.1" r="1.65"/><circle cx="214.4" cy="245.2" r="1.65"/><circle cx="214.5" cy="245.9" r="1.65"/><circle cx="214.4" cy="237.0" r="1.65"/><circle cx="213.6" cy="242.7" r="1.65"/><circle cx="214.4" cy="248.6" r="1.65"/><circle cx="213.6" cy="231.9" r="1.65"/><circle cx="213.9" cy="231.2" r="1.65"/><circle cx="215.1" cy="245.2" r="1.65"/><circle cx="215.2" cy="245.5" r="1.65"/><circle cx="214.9" cy="257.6" r="1.65"/><circle cx="215.3" cy="259.2" r="1.65"/><circle cx="214.9" cy="252.5" r="1.65"/><circle cx="214.5" cy="253.6" r="1.65"/><circle cx="215.5" cy="244.4" r="1.65"/><circle cx="215.1" cy="257.2" r="1.65"/><circle cx="214.9" cy="250.1" r="1.65"/><circle cx="214.8" cy="254.0" r="1.65"/><circle cx="215.0" cy="254.3" r="1.65"/><circle cx="215.5" cy="252.4" r="1.65"/><circle cx="214.8" cy="253.1" r="1.65"/><circle cx="214.8" cy="234.0" r="1.65"/><circle cx="215.0" cy="219.8" r="1.65"/><circle cx="215.6" cy="241.0" r="1.65"/><circle cx="216.5" cy="243.8" r="1.65"/><circle cx="215.8" cy="258.8" r="1.65"/><circle cx="215.8" cy="258.4" r="1.65"/><circle cx="215.8" cy="247.0" r="1.65"/><circle cx="216.5" cy="246.0" r="1.65"/><circle cx="216.4" cy="243.1" r="1.65"/><circle cx="216.3" cy="244.2" r="1.65"/><circle cx="216.2" cy="247.7" r="1.65"/><circle cx="215.9" cy="254.1" r="1.65"/><circle cx="215.8" cy="257.8" r="1.65"/><circle cx="216.3" cy="251.3" r="1.65"/><circle cx="216.4" cy="249.9" r="1.65"/><circle cx="215.6" cy="223.2" r="1.65"/><circle cx="216.3" cy="230.0" r="1.65"/><circle cx="217.1" cy="239.7" r="1.65"/><circle cx="217.2" cy="259.0" r="1.65"/><circle cx="217.4" cy="254.6" r="1.65"/><circle cx="216.9" cy="253.9" r="1.65"/><circle cx="216.7" cy="255.3" r="1.65"/><circle cx="217.0" cy="256.8" r="1.65"/><circle cx="216.6" cy="240.2" r="1.65"/><circle cx="217.4" cy="246.5" r="1.65"/><circle cx="216.9" cy="252.2" r="1.65"/><circle cx="217.3" cy="250.1" r="1.65"/><circle cx="217.4" cy="254.2" r="1.65"/><circle cx="217.3" cy="257.4" r="1.65"/><circle cx="217.2" cy="232.8" r="1.65"/><circle cx="216.8" cy="231.2" r="1.65"/><circle cx="217.7" cy="243.4" r="1.65"/><circle cx="217.6" cy="245.3" r="1.65"/><circle cx="217.5" cy="256.1" r="1.65"/><circle cx="217.8" cy="251.4" r="1.65"/><circle cx="218.1" cy="239.7" r="1.65"/><circle cx="218.1" cy="244.9" r="1.65"/><circle cx="217.5" cy="255.4" r="1.65"/><circle cx="218.0" cy="254.7" r="1.65"/><circle cx="218.1" cy="246.8" r="1.65"/><circle cx="217.9" cy="230.8" r="1.65"/><circle cx="218.1" cy="229.5" r="1.65"/><circle cx="219.0" cy="252.6" r="1.65"/><circle cx="218.9" cy="245.0" r="1.65"/><circle cx="219.2" cy="243.7" r="1.65"/><circle cx="218.7" cy="248.9" r="1.65"/><circle cx="218.8" cy="253.1" r="1.65"/><circle cx="219.5" cy="249.9" r="1.65"/><circle cx="219.2" cy="257.9" r="1.65"/><circle cx="218.5" cy="238.7" r="1.65"/><circle cx="219.1" cy="256.6" r="1.65"/><circle cx="218.7" cy="243.2" r="1.65"/><circle cx="218.7" cy="215.7" r="1.65"/><circle cx="219.4" cy="226.3" r="1.65"/><circle cx="219.6" cy="247.6" r="1.65"/><circle cx="220.1" cy="240.3" r="1.65"/><circle cx="219.8" cy="248.7" r="1.65"/><circle cx="220.2" cy="259.3" r="1.65"/><circle cx="219.5" cy="256.2" r="1.65"/><circle cx="220.3" cy="245.9" r="1.65"/><circle cx="219.5" cy="254.9" r="1.65"/><circle cx="219.6" cy="257.2" r="1.65"/><circle cx="220.4" cy="231.7" r="1.65"/><circle cx="220.1" cy="229.1" r="1.65"/><circle cx="221.1" cy="246.0" r="1.65"/><circle cx="221.0" cy="240.3" r="1.65"/><circle cx="221.2" cy="250.5" r="1.65"/><circle cx="221.2" cy="247.3" r="1.65"/><circle cx="221.2" cy="246.4" r="1.65"/><circle cx="220.6" cy="252.9" r="1.65"/><circle cx="220.6" cy="257.7" r="1.65"/><circle cx="221.3" cy="242.6" r="1.65"/><circle cx="221.2" cy="255.8" r="1.65"/><circle cx="221.5" cy="238.4" r="1.65"/><circle cx="220.5" cy="255.3" r="1.65"/><circle cx="221.4" cy="232.0" r="1.65"/><circle cx="220.7" cy="224.2" r="1.65"/><circle cx="222.5" cy="254.3" r="1.65"/><circle cx="222.3" cy="253.3" r="1.65"/><circle cx="222.1" cy="248.7" r="1.65"/><circle cx="221.6" cy="255.3" r="1.65"/><circle cx="221.9" cy="249.6" r="1.65"/><circle cx="221.6" cy="255.5" r="1.65"/><circle cx="221.9" cy="252.0" r="1.65"/><circle cx="221.6" cy="249.7" r="1.65"/><circle cx="221.9" cy="218.9" r="1.65"/><circle cx="222.3" cy="225.3" r="1.65"/><circle cx="222.6" cy="254.6" r="1.65"/><circle cx="223.0" cy="250.9" r="1.65"/><circle cx="223.1" cy="246.6" r="1.65"/><circle cx="223.3" cy="257.9" r="1.65"/><circle cx="223.2" cy="253.5" r="1.65"/><circle cx="223.4" cy="256.4" r="1.65"/><circle cx="222.8" cy="247.4" r="1.65"/><circle cx="222.8" cy="244.3" r="1.65"/><circle cx="223.4" cy="259.3" r="1.65"/><circle cx="222.8" cy="259.6" r="1.65"/><circle cx="222.5" cy="243.2" r="1.65"/><circle cx="223.4" cy="236.1" r="1.65"/><circle cx="223.3" cy="226.0" r="1.65"/><circle cx="224.3" cy="249.4" r="1.65"/><circle cx="223.9" cy="244.6" r="1.65"/><circle cx="224.4" cy="252.0" r="1.65"/><circle cx="223.8" cy="239.7" r="1.65"/><circle cx="223.8" cy="257.6" r="1.65"/><circle cx="224.2" cy="241.6" r="1.65"/><circle cx="224.3" cy="252.9" r="1.65"/><circle cx="223.5" cy="243.2" r="1.65"/><circle cx="223.8" cy="252.9" r="1.65"/><circle cx="224.1" cy="258.9" r="1.65"/><circle cx="224.2" cy="231.5" r="1.65"/><circle cx="223.6" cy="225.5" r="1.65"/><circle cx="225.0" cy="240.9" r="1.65"/><circle cx="224.8" cy="259.0" r="1.65"/><circle cx="224.6" cy="254.7" r="1.65"/><circle cx="225.2" cy="244.5" r="1.65"/><circle cx="224.6" cy="247.6" r="1.65"/><circle cx="225.3" cy="258.2" r="1.65"/><circle cx="224.8" cy="255.4" r="1.65"/><circle cx="225.4" cy="238.0" r="1.65"/><circle cx="224.7" cy="250.7" r="1.65"/><circle cx="225.5" cy="241.0" r="1.65"/><circle cx="225.1" cy="246.2" r="1.65"/><circle cx="224.5" cy="242.7" r="1.65"/><circle cx="225.5" cy="256.5" r="1.65"/><circle cx="224.6" cy="233.7" r="1.65"/><circle cx="224.8" cy="234.7" r="1.65"/><circle cx="225.7" cy="249.3" r="1.65"/><circle cx="225.9" cy="255.3" r="1.65"/><circle cx="225.7" cy="254.6" r="1.65"/><circle cx="225.9" cy="242.7" r="1.65"/><circle cx="226.4" cy="251.9" r="1.65"/><circle cx="225.5" cy="256.1" r="1.65"/><circle cx="226.0" cy="247.5" r="1.65"/><circle cx="225.6" cy="253.4" r="1.65"/><circle cx="225.7" cy="248.4" r="1.65"/><circle cx="225.6" cy="247.5" r="1.65"/><circle cx="226.4" cy="245.8" r="1.65"/><circle cx="225.7" cy="250.0" r="1.65"/><circle cx="226.4" cy="254.1" r="1.65"/><circle cx="225.7" cy="224.0" r="1.65"/><circle cx="225.7" cy="236.0" r="1.65"/><circle cx="226.6" cy="248.0" r="1.65"/><circle cx="226.7" cy="247.8" r="1.65"/><circle cx="226.6" cy="252.4" r="1.65"/><circle cx="226.7" cy="259.4" r="1.65"/><circle cx="227.0" cy="249.2" r="1.65"/><circle cx="226.7" cy="254.1" r="1.65"/><circle cx="227.2" cy="248.8" r="1.65"/><circle cx="227.4" cy="258.5" r="1.65"/><circle cx="227.1" cy="241.9" r="1.65"/><circle cx="226.7" cy="257.6" r="1.65"/><circle cx="227.2" cy="241.0" r="1.65"/><circle cx="226.5" cy="233.2" r="1.65"/><circle cx="226.7" cy="237.3" r="1.65"/><circle cx="228.3" cy="251.5" r="1.65"/><circle cx="228.5" cy="247.9" r="1.65"/><circle cx="227.8" cy="245.0" r="1.65"/><circle cx="227.9" cy="252.5" r="1.65"/><circle cx="228.1" cy="243.6" r="1.65"/><circle cx="227.7" cy="253.5" r="1.65"/><circle cx="228.0" cy="241.3" r="1.65"/><circle cx="227.7" cy="239.3" r="1.65"/><circle cx="227.9" cy="250.7" r="1.65"/><circle cx="228.4" cy="233.0" r="1.65"/><circle cx="227.8" cy="237.5" r="1.65"/><circle cx="229.4" cy="246.9" r="1.65"/><circle cx="228.8" cy="240.4" r="1.65"/><circle cx="229.0" cy="256.9" r="1.65"/><circle cx="228.6" cy="252.2" r="1.65"/><circle cx="229.4" cy="242.3" r="1.65"/><circle cx="229.2" cy="250.4" r="1.65"/><circle cx="228.9" cy="243.6" r="1.65"/><circle cx="228.6" cy="249.4" r="1.65"/><circle cx="229.0" cy="254.1" r="1.65"/><circle cx="229.1" cy="233.8" r="1.65"/><circle cx="229.5" cy="222.5" r="1.65"/><circle cx="230.5" cy="243.2" r="1.65"/><circle cx="230.5" cy="242.7" r="1.65"/><circle cx="230.2" cy="257.6" r="1.65"/><circle cx="230.3" cy="245.9" r="1.65"/><circle cx="229.7" cy="241.0" r="1.65"/><circle cx="229.6" cy="243.9" r="1.65"/><circle cx="229.6" cy="246.9" r="1.65"/><circle cx="230.2" cy="250.6" r="1.65"/><circle cx="230.0" cy="247.6" r="1.65"/><circle cx="230.5" cy="241.7" r="1.65"/><circle cx="230.2" cy="252.0" r="1.65"/><circle cx="230.3" cy="259.0" r="1.65"/><circle cx="230.3" cy="244.7" r="1.65"/><circle cx="230.4" cy="236.1" r="1.65"/><circle cx="229.7" cy="231.9" r="1.65"/><circle cx="230.8" cy="249.7" r="1.65"/><circle cx="230.7" cy="239.8" r="1.65"/><circle cx="230.7" cy="253.2" r="1.65"/><circle cx="230.6" cy="259.4" r="1.65"/><circle cx="231.0" cy="241.5" r="1.65"/><circle cx="231.0" cy="245.1" r="1.65"/><circle cx="230.6" cy="243.8" r="1.65"/><circle cx="231.1" cy="241.8" r="1.65"/><circle cx="231.3" cy="253.2" r="1.65"/><circle cx="231.0" cy="253.9" r="1.65"/><circle cx="230.7" cy="250.3" r="1.65"/><circle cx="231.2" cy="253.1" r="1.65"/><circle cx="231.1" cy="219.4" r="1.65"/><circle cx="231.2" cy="223.0" r="1.65"/><circle cx="231.6" cy="255.2" r="1.65"/><circle cx="231.6" cy="252.5" r="1.65"/><circle cx="231.9" cy="243.5" r="1.65"/><circle cx="231.5" cy="249.7" r="1.65"/><circle cx="231.8" cy="253.8" r="1.65"/><circle cx="232.1" cy="252.0" r="1.65"/><circle cx="231.8" cy="257.6" r="1.65"/><circle cx="231.7" cy="252.5" r="1.65"/><circle cx="232.5" cy="256.0" r="1.65"/><circle cx="231.8" cy="255.3" r="1.65"/><circle cx="232.1" cy="253.8" r="1.65"/><circle cx="232.0" cy="240.3" r="1.65"/><circle cx="231.7" cy="229.7" r="1.65"/><circle cx="232.0" cy="220.6" r="1.65"/><circle cx="233.0" cy="246.2" r="1.65"/><circle cx="232.6" cy="254.9" r="1.65"/><circle cx="232.8" cy="246.7" r="1.65"/><circle cx="232.8" cy="252.7" r="1.65"/><circle cx="233.3" cy="248.6" r="1.65"/><circle cx="233.4" cy="246.3" r="1.65"/><circle cx="232.6" cy="258.3" r="1.65"/><circle cx="232.8" cy="248.1" r="1.65"/><circle cx="233.0" cy="257.8" r="1.65"/><circle cx="232.6" cy="251.6" r="1.65"/><circle cx="232.9" cy="247.7" r="1.65"/><circle cx="233.3" cy="239.5" r="1.65"/><circle cx="232.6" cy="241.3" r="1.65"/><circle cx="233.3" cy="231.1" r="1.65"/><circle cx="232.7" cy="222.5" r="1.65"/><circle cx="233.6" cy="247.5" r="1.65"/><circle cx="234.2" cy="241.0" r="1.65"/><circle cx="234.0" cy="251.3" r="1.65"/><circle cx="233.6" cy="253.7" r="1.65"/><circle cx="233.8" cy="245.7" r="1.65"/><circle cx="234.2" cy="245.3" r="1.65"/><circle cx="233.9" cy="245.8" r="1.65"/><circle cx="234.3" cy="214.2" r="1.65"/><circle cx="234.4" cy="232.5" r="1.65"/><circle cx="234.9" cy="255.9" r="1.65"/><circle cx="234.9" cy="246.5" r="1.65"/><circle cx="235.4" cy="240.9" r="1.65"/><circle cx="235.4" cy="247.3" r="1.65"/><circle cx="235.4" cy="254.5" r="1.65"/><circle cx="235.3" cy="254.0" r="1.65"/><circle cx="235.2" cy="233.8" r="1.65"/><circle cx="235.4" cy="217.4" r="1.65"/><circle cx="236.3" cy="248.3" r="1.65"/><circle cx="235.7" cy="243.2" r="1.65"/><circle cx="235.5" cy="240.8" r="1.65"/><circle cx="235.6" cy="255.4" r="1.65"/><circle cx="235.9" cy="242.9" r="1.65"/><circle cx="236.4" cy="245.2" r="1.65"/><circle cx="236.4" cy="254.1" r="1.65"/><circle cx="236.1" cy="250.7" r="1.65"/><circle cx="236.0" cy="256.1" r="1.65"/><circle cx="235.9" cy="252.7" r="1.65"/><circle cx="236.2" cy="238.1" r="1.65"/><circle cx="236.4" cy="221.2" r="1.65"/><circle cx="237.2" cy="251.1" r="1.65"/><circle cx="237.0" cy="247.8" r="1.65"/><circle cx="237.2" cy="246.2" r="1.65"/><circle cx="237.4" cy="255.5" r="1.65"/><circle cx="236.9" cy="259.5" r="1.65"/><circle cx="236.8" cy="243.0" r="1.65"/><circle cx="237.0" cy="254.1" r="1.65"/><circle cx="236.6" cy="249.2" r="1.65"/><circle cx="237.4" cy="250.3" r="1.65"/><circle cx="237.0" cy="243.1" r="1.65"/><circle cx="237.5" cy="237.4" r="1.65"/><circle cx="237.4" cy="231.0" r="1.65"/><circle cx="238.1" cy="255.6" r="1.65"/><circle cx="237.9" cy="244.2" r="1.65"/><circle cx="237.6" cy="249.5" r="1.65"/><circle cx="237.7" cy="253.8" r="1.65"/><circle cx="237.7" cy="244.2" r="1.65"/><circle cx="238.2" cy="253.9" r="1.65"/><circle cx="238.3" cy="253.7" r="1.65"/><circle cx="238.4" cy="258.1" r="1.65"/><circle cx="237.6" cy="248.1" r="1.65"/><circle cx="237.6" cy="255.5" r="1.65"/><circle cx="238.5" cy="248.4" r="1.65"/><circle cx="237.7" cy="235.5" r="1.65"/><circle cx="237.7" cy="223.9" r="1.65"/><circle cx="238.7" cy="251.8" r="1.65"/><circle cx="238.7" cy="243.5" r="1.65"/><circle cx="238.7" cy="245.5" r="1.65"/><circle cx="239.5" cy="248.9" r="1.65"/><circle cx="239.1" cy="248.7" r="1.65"/><circle cx="238.6" cy="241.9" r="1.65"/><circle cx="238.9" cy="247.3" r="1.65"/><circle cx="238.9" cy="246.2" r="1.65"/><circle cx="239.3" cy="250.8" r="1.65"/><circle cx="239.1" cy="254.1" r="1.65"/><circle cx="238.9" cy="258.0" r="1.65"/><circle cx="239.2" cy="245.1" r="1.65"/><circle cx="238.6" cy="238.2" r="1.65"/><circle cx="239.4" cy="228.2" r="1.65"/><circle cx="239.8" cy="251.2" r="1.65"/><circle cx="239.9" cy="258.6" r="1.65"/><circle cx="240.4" cy="242.8" r="1.65"/><circle cx="239.8" cy="255.6" r="1.65"/><circle cx="239.9" cy="248.9" r="1.65"/><circle cx="240.0" cy="257.5" r="1.65"/><circle cx="240.0" cy="258.2" r="1.65"/><circle cx="240.1" cy="245.9" r="1.65"/><circle cx="239.9" cy="255.3" r="1.65"/><circle cx="240.4" cy="247.0" r="1.65"/><circle cx="239.8" cy="250.2" r="1.65"/><circle cx="240.2" cy="256.0" r="1.65"/><circle cx="239.6" cy="239.5" r="1.65"/><circle cx="239.7" cy="255.7" r="1.65"/><circle cx="240.2" cy="240.2" r="1.65"/><circle cx="240.4" cy="237.8" r="1.65"/><circle cx="240.4" cy="232.0" r="1.65"/><circle cx="240.7" cy="258.2" r="1.65"/><circle cx="241.4" cy="247.1" r="1.65"/><circle cx="241.5" cy="254.6" r="1.65"/><circle cx="240.6" cy="240.0" r="1.65"/><circle cx="240.7" cy="252.1" r="1.65"/><circle cx="240.8" cy="248.1" r="1.65"/><circle cx="240.7" cy="259.6" r="1.65"/><circle cx="240.9" cy="242.9" r="1.65"/><circle cx="241.0" cy="254.3" r="1.65"/><circle cx="240.9" cy="217.2" r="1.65"/><circle cx="241.1" cy="236.2" r="1.65"/><circle cx="241.8" cy="257.3" r="1.65"/><circle cx="241.7" cy="250.8" r="1.65"/><circle cx="241.5" cy="247.2" r="1.65"/><circle cx="242.3" cy="249.9" r="1.65"/><circle cx="242.1" cy="247.8" r="1.65"/><circle cx="242.5" cy="254.2" r="1.65"/><circle cx="241.9" cy="251.9" r="1.65"/><circle cx="242.3" cy="253.4" r="1.65"/><circle cx="241.7" cy="233.5" r="1.65"/><circle cx="242.0" cy="237.4" r="1.65"/><circle cx="243.4" cy="258.2" r="1.65"/><circle cx="243.3" cy="254.8" r="1.65"/><circle cx="243.4" cy="251.4" r="1.65"/><circle cx="242.6" cy="241.7" r="1.65"/><circle cx="243.2" cy="257.1" r="1.65"/><circle cx="243.0" cy="252.6" r="1.65"/><circle cx="243.2" cy="254.1" r="1.65"/><circle cx="243.4" cy="245.2" r="1.65"/><circle cx="243.3" cy="248.2" r="1.65"/><circle cx="243.4" cy="254.8" r="1.65"/><circle cx="243.2" cy="222.0" r="1.65"/><circle cx="243.2" cy="223.0" r="1.65"/><circle cx="244.2" cy="259.5" r="1.65"/><circle cx="244.3" cy="247.3" r="1.65"/><circle cx="244.0" cy="257.6" r="1.65"/><circle cx="244.2" cy="249.1" r="1.65"/><circle cx="244.3" cy="243.5" r="1.65"/><circle cx="244.0" cy="242.2" r="1.65"/><circle cx="244.4" cy="246.5" r="1.65"/><circle cx="244.0" cy="234.3" r="1.65"/><circle cx="243.9" cy="237.8" r="1.65"/><circle cx="244.7" cy="253.4" r="1.65"/><circle cx="244.7" cy="250.9" r="1.65"/><circle cx="244.9" cy="249.7" r="1.65"/><circle cx="245.1" cy="250.9" r="1.65"/><circle cx="245.1" cy="259.3" r="1.65"/><circle cx="245.0" cy="259.0" r="1.65"/><circle cx="244.7" cy="246.2" r="1.65"/><circle cx="245.1" cy="242.4" r="1.65"/><circle cx="245.2" cy="239.3" r="1.65"/><circle cx="245.4" cy="229.4" r="1.65"/><circle cx="246.1" cy="253.3" r="1.65"/><circle cx="246.1" cy="241.5" r="1.65"/><circle cx="246.4" cy="253.2" r="1.65"/><circle cx="246.2" cy="259.5" r="1.65"/><circle cx="245.9" cy="240.2" r="1.65"/><circle cx="246.1" cy="259.1" r="1.65"/><circle cx="246.3" cy="257.8" r="1.65"/><circle cx="245.7" cy="240.5" r="1.65"/><circle cx="246.4" cy="222.1" r="1.65"/><circle cx="246.4" cy="227.4" r="1.65"/><circle cx="246.6" cy="248.2" r="1.65"/><circle cx="246.9" cy="245.6" r="1.65"/><circle cx="246.7" cy="252.4" r="1.65"/><circle cx="246.9" cy="254.4" r="1.65"/><circle cx="246.6" cy="257.8" r="1.65"/><circle cx="247.1" cy="243.5" r="1.65"/><circle cx="247.0" cy="255.9" r="1.65"/><circle cx="246.9" cy="251.5" r="1.65"/><circle cx="246.6" cy="250.9" r="1.65"/><circle cx="247.3" cy="226.8" r="1.65"/><circle cx="247.3" cy="226.9" r="1.65"/><circle cx="248.3" cy="248.0" r="1.65"/><circle cx="248.0" cy="256.5" r="1.65"/><circle cx="247.7" cy="258.2" r="1.65"/><circle cx="247.8" cy="241.9" r="1.65"/><circle cx="248.0" cy="248.7" r="1.65"/><circle cx="247.7" cy="258.5" r="1.65"/><circle cx="248.4" cy="246.4" r="1.65"/><circle cx="247.7" cy="254.1" r="1.65"/><circle cx="248.3" cy="241.5" r="1.65"/><circle cx="248.1" cy="253.0" r="1.65"/><circle cx="248.2" cy="222.6" r="1.65"/><circle cx="248.0" cy="236.5" r="1.65"/><circle cx="249.2" cy="253.5" r="1.65"/><circle cx="248.9" cy="240.9" r="1.65"/><circle cx="249.2" cy="244.5" r="1.65"/><circle cx="248.8" cy="259.6" r="1.65"/><circle cx="248.9" cy="253.5" r="1.65"/><circle cx="248.7" cy="253.8" r="1.65"/><circle cx="249.2" cy="250.0" r="1.65"/><circle cx="248.6" cy="256.2" r="1.65"/><circle cx="249.2" cy="223.8" r="1.65"/><circle cx="249.1" cy="236.4" r="1.65"/><circle cx="249.8" cy="256.0" r="1.65"/><circle cx="250.2" cy="254.5" r="1.65"/><circle cx="249.6" cy="249.2" r="1.65"/><circle cx="250.4" cy="252.9" r="1.65"/><circle cx="249.9" cy="254.4" r="1.65"/><circle cx="249.5" cy="253.6" r="1.65"/><circle cx="250.4" cy="259.6" r="1.65"/><circle cx="250.1" cy="239.2" r="1.65"/><circle cx="250.1" cy="240.6" r="1.65"/><circle cx="251.0" cy="251.6" r="1.65"/><circle cx="250.9" cy="250.1" r="1.65"/><circle cx="250.7" cy="250.6" r="1.65"/><circle cx="251.0" cy="246.2" r="1.65"/><circle cx="250.7" cy="248.9" r="1.65"/><circle cx="251.3" cy="251.0" r="1.65"/><circle cx="251.4" cy="250.7" r="1.65"/><circle cx="250.8" cy="250.6" r="1.65"/><circle cx="251.3" cy="248.6" r="1.65"/><circle cx="250.7" cy="250.1" r="1.65"/><circle cx="250.8" cy="249.5" r="1.65"/><circle cx="250.7" cy="226.8" r="1.65"/><circle cx="251.2" cy="238.1" r="1.65"/><circle cx="251.8" cy="252.9" r="1.65"/><circle cx="252.5" cy="250.9" r="1.65"/><circle cx="251.8" cy="256.1" r="1.65"/><circle cx="251.9" cy="254.8" r="1.65"/><circle cx="252.2" cy="246.2" r="1.65"/><circle cx="251.9" cy="257.2" r="1.65"/><circle cx="251.8" cy="244.6" r="1.65"/><circle cx="252.4" cy="239.2" r="1.65"/><circle cx="251.7" cy="232.2" r="1.65"/><circle cx="253.4" cy="248.2" r="1.65"/><circle cx="253.1" cy="249.4" r="1.65"/><circle cx="252.9" cy="246.0" r="1.65"/><circle cx="252.9" cy="248.2" r="1.65"/><circle cx="253.2" cy="255.3" r="1.65"/><circle cx="252.5" cy="252.8" r="1.65"/><circle cx="252.8" cy="253.7" r="1.65"/><circle cx="253.1" cy="258.0" r="1.65"/><circle cx="252.5" cy="251.8" r="1.65"/><circle cx="252.6" cy="252.4" r="1.65"/><circle cx="252.9" cy="245.2" r="1.65"/><circle cx="252.6" cy="239.9" r="1.65"/><circle cx="252.7" cy="241.1" r="1.65"/><circle cx="254.3" cy="248.3" r="1.65"/><circle cx="254.3" cy="256.2" r="1.65"/><circle cx="254.3" cy="251.4" r="1.65"/><circle cx="254.3" cy="243.2" r="1.65"/><circle cx="253.6" cy="245.2" r="1.65"/><circle cx="253.8" cy="234.0" r="1.65"/><circle cx="254.0" cy="237.2" r="1.65"/><circle cx="255.4" cy="250.4" r="1.65"/><circle cx="255.1" cy="247.9" r="1.65"/><circle cx="254.6" cy="251.7" r="1.65"/><circle cx="254.6" cy="258.9" r="1.65"/><circle cx="254.8" cy="253.4" r="1.65"/><circle cx="255.5" cy="247.6" r="1.65"/><circle cx="254.7" cy="248.0" r="1.65"/><circle cx="254.9" cy="253.5" r="1.65"/><circle cx="255.3" cy="248.8" r="1.65"/><circle cx="254.5" cy="237.8" r="1.65"/><circle cx="255.5" cy="227.9" r="1.65"/><circle cx="256.0" cy="253.8" r="1.65"/><circle cx="256.1" cy="245.1" r="1.65"/><circle cx="256.1" cy="254.1" r="1.65"/><circle cx="255.6" cy="247.2" r="1.65"/><circle cx="255.6" cy="250.3" r="1.65"/><circle cx="256.3" cy="251.4" r="1.65"/><circle cx="255.9" cy="251.9" r="1.65"/><circle cx="256.3" cy="256.6" r="1.65"/><circle cx="256.5" cy="248.1" r="1.65"/><circle cx="255.6" cy="256.5" r="1.65"/><circle cx="256.4" cy="220.9" r="1.65"/><circle cx="256.2" cy="241.1" r="1.65"/><circle cx="257.3" cy="256.9" r="1.65"/><circle cx="257.4" cy="251.0" r="1.65"/><circle cx="257.4" cy="254.0" r="1.65"/><circle cx="256.8" cy="247.7" r="1.65"/><circle cx="257.1" cy="242.8" r="1.65"/><circle cx="256.8" cy="243.8" r="1.65"/><circle cx="257.3" cy="259.5" r="1.65"/><circle cx="256.7" cy="256.3" r="1.65"/><circle cx="257.1" cy="240.6" r="1.65"/><circle cx="257.4" cy="236.1" r="1.65"/><circle cx="258.3" cy="254.3" r="1.65"/><circle cx="258.5" cy="249.9" r="1.65"/><circle cx="258.2" cy="256.7" r="1.65"/><circle cx="257.7" cy="248.8" r="1.65"/><circle cx="258.0" cy="258.9" r="1.65"/><circle cx="258.3" cy="250.7" r="1.65"/><circle cx="257.8" cy="248.1" r="1.65"/><circle cx="257.9" cy="254.9" r="1.65"/><circle cx="258.4" cy="251.1" r="1.65"/><circle cx="258.3" cy="250.2" r="1.65"/><circle cx="257.6" cy="239.2" r="1.65"/><circle cx="258.1" cy="229.8" r="1.65"/><circle cx="258.7" cy="248.5" r="1.65"/><circle cx="259.3" cy="249.6" r="1.65"/><circle cx="259.1" cy="251.6" r="1.65"/><circle cx="259.3" cy="255.9" r="1.65"/><circle cx="259.5" cy="249.6" r="1.65"/><circle cx="258.9" cy="245.1" r="1.65"/><circle cx="258.7" cy="250.9" r="1.65"/><circle cx="258.6" cy="257.3" r="1.65"/><circle cx="259.0" cy="233.4" r="1.65"/><circle cx="258.5" cy="239.6" r="1.65"/><circle cx="260.3" cy="245.4" r="1.65"/><circle cx="259.7" cy="252.0" r="1.65"/><circle cx="260.2" cy="255.8" r="1.65"/><circle cx="260.0" cy="253.4" r="1.65"/><circle cx="260.1" cy="254.2" r="1.65"/><circle cx="260.3" cy="254.9" r="1.65"/><circle cx="259.7" cy="257.4" r="1.65"/><circle cx="259.6" cy="243.3" r="1.65"/><circle cx="259.8" cy="250.6" r="1.65"/><circle cx="260.3" cy="250.1" r="1.65"/><circle cx="259.7" cy="225.6" r="1.65"/><circle cx="259.8" cy="219.6" r="1.65"/><circle cx="260.5" cy="259.6" r="1.65"/><circle cx="261.4" cy="255.4" r="1.65"/><circle cx="260.6" cy="248.9" r="1.65"/><circle cx="260.9" cy="258.8" r="1.65"/><circle cx="260.7" cy="256.7" r="1.65"/><circle cx="261.1" cy="249.1" r="1.65"/><circle cx="260.7" cy="250.1" r="1.65"/><circle cx="261.1" cy="236.8" r="1.65"/><circle cx="261.0" cy="239.9" r="1.65"/><circle cx="262.1" cy="254.9" r="1.65"/><circle cx="261.5" cy="253.6" r="1.65"/><circle cx="262.1" cy="249.8" r="1.65"/><circle cx="262.2" cy="247.9" r="1.65"/><circle cx="262.3" cy="247.4" r="1.65"/><circle cx="261.9" cy="248.5" r="1.65"/><circle cx="261.6" cy="250.9" r="1.65"/><circle cx="262.5" cy="251.2" r="1.65"/><circle cx="261.7" cy="233.8" r="1.65"/><circle cx="261.8" cy="241.6" r="1.65"/><circle cx="263.3" cy="256.7" r="1.65"/><circle cx="262.5" cy="247.0" r="1.65"/><circle cx="263.3" cy="245.6" r="1.65"/><circle cx="263.0" cy="246.9" r="1.65"/><circle cx="263.1" cy="257.9" r="1.65"/><circle cx="262.9" cy="249.4" r="1.65"/><circle cx="263.1" cy="258.2" r="1.65"/><circle cx="263.4" cy="254.6" r="1.65"/><circle cx="263.2" cy="244.0" r="1.65"/><circle cx="262.5" cy="234.6" r="1.65"/><circle cx="262.7" cy="227.4" r="1.65"/><circle cx="264.0" cy="243.7" r="1.65"/><circle cx="263.7" cy="249.4" r="1.65"/><circle cx="264.2" cy="256.9" r="1.65"/><circle cx="264.4" cy="249.3" r="1.65"/><circle cx="264.2" cy="243.9" r="1.65"/><circle cx="263.8" cy="252.5" r="1.65"/><circle cx="263.9" cy="250.9" r="1.65"/><circle cx="264.1" cy="247.4" r="1.65"/><circle cx="263.6" cy="229.7" r="1.65"/><circle cx="264.0" cy="235.3" r="1.65"/><circle cx="265.4" cy="248.7" r="1.65"/><circle cx="265.3" cy="258.7" r="1.65"/><circle cx="265.5" cy="252.9" r="1.65"/><circle cx="265.4" cy="252.0" r="1.65"/><circle cx="265.1" cy="245.3" r="1.65"/><circle cx="265.2" cy="254.7" r="1.65"/><circle cx="264.5" cy="238.2" r="1.65"/><circle cx="265.5" cy="229.0" r="1.65"/><circle cx="266.2" cy="249.7" r="1.65"/><circle cx="265.9" cy="255.2" r="1.65"/><circle cx="265.7" cy="252.2" r="1.65"/><circle cx="265.9" cy="250.6" r="1.65"/><circle cx="266.3" cy="240.4" r="1.65"/><circle cx="267.1" cy="245.3" r="1.65"/><circle cx="266.6" cy="246.0" r="1.65"/><circle cx="266.9" cy="247.6" r="1.65"/><circle cx="267.4" cy="248.9" r="1.65"/><circle cx="267.5" cy="248.9" r="1.65"/><circle cx="266.5" cy="246.3" r="1.65"/><circle cx="266.7" cy="235.6" r="1.65"/><circle cx="267.5" cy="231.6" r="1.65"/><circle cx="268.0" cy="256.4" r="1.65"/><circle cx="268.0" cy="256.5" r="1.65"/><circle cx="267.7" cy="247.0" r="1.65"/><circle cx="268.3" cy="254.7" r="1.65"/><circle cx="268.4" cy="253.3" r="1.65"/><circle cx="267.8" cy="256.5" r="1.65"/><circle cx="267.6" cy="258.5" r="1.65"/><circle cx="268.4" cy="238.8" r="1.65"/><circle cx="268.2" cy="237.9" r="1.65"/><circle cx="269.0" cy="255.9" r="1.65"/><circle cx="268.6" cy="255.6" r="1.65"/><circle cx="268.6" cy="257.9" r="1.65"/><circle cx="269.4" cy="251.0" r="1.65"/><circle cx="269.3" cy="259.6" r="1.65"/><circle cx="269.5" cy="253.4" r="1.65"/><circle cx="269.0" cy="245.5" r="1.65"/><circle cx="268.9" cy="242.0" r="1.65"/><circle cx="269.3" cy="240.7" r="1.65"/><circle cx="270.0" cy="246.7" r="1.65"/><circle cx="270.0" cy="249.4" r="1.65"/><circle cx="269.8" cy="259.6" r="1.65"/><circle cx="269.6" cy="242.8" r="1.65"/><circle cx="270.1" cy="256.9" r="1.65"/><circle cx="269.6" cy="237.8" r="1.65"/><circle cx="269.9" cy="236.6" r="1.65"/><circle cx="271.2" cy="249.6" r="1.65"/><circle cx="270.6" cy="256.3" r="1.65"/><circle cx="270.5" cy="259.5" r="1.65"/><circle cx="270.8" cy="257.6" r="1.65"/><circle cx="271.1" cy="257.9" r="1.65"/><circle cx="271.3" cy="249.1" r="1.65"/><circle cx="271.0" cy="253.2" r="1.65"/><circle cx="271.4" cy="237.1" r="1.65"/><circle cx="272.0" cy="259.6" r="1.65"/><circle cx="272.5" cy="252.1" r="1.65"/><circle cx="272.1" cy="253.3" r="1.65"/><circle cx="272.4" cy="251.8" r="1.65"/><circle cx="272.3" cy="257.6" r="1.65"/><circle cx="271.9" cy="256.3" r="1.65"/><circle cx="271.8" cy="237.8" r="1.65"/><circle cx="272.5" cy="237.5" r="1.65"/><circle cx="273.0" cy="258.9" r="1.65"/><circle cx="273.3" cy="249.3" r="1.65"/><circle cx="273.4" cy="249.5" r="1.65"/><circle cx="272.7" cy="233.4" r="1.65"/><circle cx="272.8" cy="228.7" r="1.65"/><circle cx="274.3" cy="252.7" r="1.65"/><circle cx="274.3" cy="251.4" r="1.65"/><circle cx="274.4" cy="256.7" r="1.65"/><circle cx="273.5" cy="256.5" r="1.65"/><circle cx="274.3" cy="255.9" r="1.65"/><circle cx="274.3" cy="259.4" r="1.65"/><circle cx="274.2" cy="233.2" r="1.65"/><circle cx="274.8" cy="257.2" r="1.65"/><circle cx="275.2" cy="257.8" r="1.65"/><circle cx="275.3" cy="254.2" r="1.65"/><circle cx="274.6" cy="255.8" r="1.65"/><circle cx="274.8" cy="228.2" r="1.65"/><circle cx="274.7" cy="241.6" r="1.65"/><circle cx="276.2" cy="255.7" r="1.65"/><circle cx="276.2" cy="244.9" r="1.65"/><circle cx="275.9" cy="257.7" r="1.65"/><circle cx="275.6" cy="252.1" r="1.65"/><circle cx="275.8" cy="249.7" r="1.65"/><circle cx="275.8" cy="231.5" r="1.65"/><circle cx="277.0" cy="257.6" r="1.65"/><circle cx="277.1" cy="258.7" r="1.65"/><circle cx="276.8" cy="257.5" r="1.65"/><circle cx="276.9" cy="256.1" r="1.65"/><circle cx="276.9" cy="259.6" r="1.65"/><circle cx="276.9" cy="242.7" r="1.65"/><circle cx="278.4" cy="254.2" r="1.65"/><circle cx="278.0" cy="254.5" r="1.65"/><circle cx="278.0" cy="248.9" r="1.65"/><circle cx="278.5" cy="258.6" r="1.65"/><circle cx="277.5" cy="244.4" r="1.65"/><circle cx="278.3" cy="242.7" r="1.65"/><circle cx="279.3" cy="257.2" r="1.65"/><circle cx="278.7" cy="251.9" r="1.65"/><circle cx="278.6" cy="256.8" r="1.65"/><circle cx="278.9" cy="259.4" r="1.65"/><circle cx="279.4" cy="251.1" r="1.65"/><circle cx="278.9" cy="258.9" r="1.65"/><circle cx="279.0" cy="227.9" r="1.65"/><circle cx="278.9" cy="239.5" r="1.65"/><circle cx="279.9" cy="251.4" r="1.65"/><circle cx="279.9" cy="253.9" r="1.65"/><circle cx="280.0" cy="249.1" r="1.65"/><circle cx="279.6" cy="232.7" r="1.65"/><circle cx="281.3" cy="258.2" r="1.65"/><circle cx="281.0" cy="252.1" r="1.65"/><circle cx="281.2" cy="246.6" r="1.65"/><circle cx="281.4" cy="255.4" r="1.65"/><circle cx="280.6" cy="235.3" r="1.65"/><circle cx="281.5" cy="255.1" r="1.65"/><circle cx="282.2" cy="252.9" r="1.65"/><circle cx="281.9" cy="254.8" r="1.65"/><circle cx="281.7" cy="249.6" r="1.65"/><circle cx="282.2" cy="238.6" r="1.65"/><circle cx="283.2" cy="257.2" r="1.65"/><circle cx="283.1" cy="255.5" r="1.65"/><circle cx="282.7" cy="236.7" r="1.65"/><circle cx="282.5" cy="245.0" r="1.65"/><circle cx="283.7" cy="256.3" r="1.65"/><circle cx="284.2" cy="256.1" r="1.65"/><circle cx="284.5" cy="245.1" r="1.65"/><circle cx="285.4" cy="259.5" r="1.65"/><circle cx="285.3" cy="234.4" r="1.65"/><circle cx="285.3" cy="241.5" r="1.65"/><circle cx="286.1" cy="245.2" r="1.65"/><circle cx="286.7" cy="256.8" r="1.65"/><circle cx="287.2" cy="254.6" r="1.65"/><circle cx="286.8" cy="251.0" r="1.65"/><circle cx="287.2" cy="238.4" r="1.65"/><circle cx="286.7" cy="242.7" r="1.65"/><circle cx="287.8" cy="250.8" r="1.65"/><circle cx="288.4" cy="236.9" r="1.65"/><circle cx="287.8" cy="248.4" r="1.65"/><circle cx="288.8" cy="256.6" r="1.65"/><circle cx="288.8" cy="238.6" r="1.65"/><circle cx="288.9" cy="235.3" r="1.65"/><circle cx="290.4" cy="253.0" r="1.65"/><circle cx="289.6" cy="236.0" r="1.65"/><circle cx="289.6" cy="239.8" r="1.65"/><circle cx="291.0" cy="254.5" r="1.65"/><circle cx="290.8" cy="246.5" r="1.65"/><circle cx="292.0" cy="257.8" r="1.65"/><circle cx="292.4" cy="234.1" r="1.65"/><circle cx="291.6" cy="245.0" r="1.65"/><circle cx="293.2" cy="258.7" r="1.65"/><circle cx="293.3" cy="244.1" r="1.65"/><circle cx="293.0" cy="240.3" r="1.65"/><circle cx="293.7" cy="251.4" r="1.65"/><circle cx="293.5" cy="247.4" r="1.65"/><circle cx="188.0" cy="240.0" r="1.65"/><circle cx="189.3" cy="240.6" r="1.65"/><circle cx="188.0" cy="241.3" r="1.65"/><circle cx="189.3" cy="241.9" r="1.65"/><circle cx="188.0" cy="242.6" r="1.65"/><circle cx="189.3" cy="243.2" r="1.65"/><circle cx="188.0" cy="243.9" r="1.65"/><circle cx="189.3" cy="244.5" r="1.65"/><circle cx="188.0" cy="245.2" r="1.65"/><circle cx="189.3" cy="245.8" r="1.65"/><circle cx="188.0" cy="246.5" r="1.65"/><circle cx="189.3" cy="247.1" r="1.65"/><circle cx="188.0" cy="247.8" r="1.65"/><circle cx="189.3" cy="248.4" r="1.65"/><circle cx="188.0" cy="249.1" r="1.65"/><circle cx="189.3" cy="249.7" r="1.65"/><circle cx="188.0" cy="250.4" r="1.65"/><circle cx="189.3" cy="251.0" r="1.65"/><circle cx="188.0" cy="251.7" r="1.65"/><circle cx="189.3" cy="252.3" r="1.65"/><circle cx="188.0" cy="253.0" r="1.65"/><circle cx="189.3" cy="253.6" r="1.65"/><circle cx="188.0" cy="254.3" r="1.65"/><circle cx="189.3" cy="254.9" r="1.65"/><circle cx="188.0" cy="255.6" r="1.65"/><circle cx="189.3" cy="256.2" r="1.65"/><circle cx="188.0" cy="256.9" r="1.65"/><circle cx="189.3" cy="257.5" r="1.65"/><circle cx="188.0" cy="258.2" r="1.65"/><circle cx="189.3" cy="258.8" r="1.65"/><circle cx="188.0" cy="259.5" r="1.65"/><circle cx="189.3" cy="260.1" r="1.65"/><circle cx="188.3" cy="226.0" r="1.65"/><circle cx="189.3" cy="227.5" r="1.65"/><circle cx="190.0" cy="229.0" r="1.65"/><circle cx="189.6" cy="230.5" r="1.65"/><circle cx="188.5" cy="233.5" r="1.65"/><circle cx="190.3" cy="236.5" r="1.65"/><circle cx="189.0" cy="238.0" r="1.65"/></g>
<rect x="47" y="1" width="329" height="280" fill="none" stroke="#c8c8c8" stroke-width="2"/>
<g font-family="Liberation Sans, sans-serif" font-size="12" fill="#1a1a1a" stroke="#1a1a1a" stroke-width="0.25"><line x1="44.5" y1="268.44" x2="46.5" y2="268.44" stroke="#333" stroke-width="1"/><text x="38.6" y="272.74" text-anchor="end">0</text><line x1="44.5" y1="217.44" x2="46.5" y2="217.44" stroke="#333" stroke-width="1"/><text x="38.6" y="221.74" text-anchor="end">10</text><line x1="44.5" y1="166.44" x2="46.5" y2="166.44" stroke="#333" stroke-width="1"/><text x="38.6" y="170.74" text-anchor="end">20</text><line x1="44.5" y1="115.44" x2="46.5" y2="115.44" stroke="#333" stroke-width="1"/><text x="38.6" y="119.74" text-anchor="end">30</text><line x1="44.5" y1="64.44" x2="46.5" y2="64.44" stroke="#333" stroke-width="1"/><text x="38.6" y="68.74" text-anchor="end">40</text><line x1="44.5" y1="13.44" x2="46.5" y2="13.44" stroke="#333" stroke-width="1"/><text x="38.6" y="17.74" text-anchor="end">50</text><line x1="105.40" y1="281.2" x2="105.40" y2="283.4" stroke="#333" stroke-width="1"/><text x="103.20" y="297.7" text-anchor="middle">-5</text><line x1="174.00" y1="281.2" x2="174.00" y2="283.4" stroke="#333" stroke-width="1"/><text x="173.30" y="297.7" text-anchor="middle">0</text><line x1="242.60" y1="281.2" x2="242.60" y2="283.4" stroke="#333" stroke-width="1"/><text x="242.90" y="297.7" text-anchor="middle">5</text><line x1="311.50" y1="281.2" x2="311.50" y2="283.4" stroke="#333" stroke-width="1"/><text x="312.20" y="297.7" text-anchor="middle">10</text></g>
<text x="205.7" y="317" text-anchor="middle" font-family="Liberation Sans, sans-serif" font-size="14" fill="#000" stroke="#000" stroke-width="0.2">log2(foldchange)</text>
<text transform="translate(10.9,138.1) rotate(-90)" text-anchor="middle" font-family="Liberation Sans, sans-serif" font-size="14" fill="#000" stroke="#000" stroke-width="0.2">-log10(adjust p-value)</text>
<g font-family="Liberation Sans, sans-serif" font-size="17.5" fill="#000" stroke-width="0.2">
<circle cx="300.8" cy="32.1" r="2.1" fill="#0000ff"/><text x="308.3" y="37">Down</text>
<circle cx="300.8" cy="52.1" r="2.1" fill="#bebebe"/><text x="308.6" y="57.6">NoDEG</text>
<circle cx="300.8" cy="71.4" r="2.1" fill="#ee0000"/><text x="308.5" y="77.3">Up</text>
</g>
<text x="0.5" y="14" font-family="Liberation Sans, sans-serif" font-weight="bold" font-size="18" fill="#000">a</text>
<text x="403.1" y="13.3" font-family="Liberation Sans, sans-serif" font-weight="bold" font-size="18" fill="#000">b</text>
<circle cx="489.45" cy="140.35" r="84.3" fill="#8080ff"/>
<circle cx="600.15" cy="140.35" r="84.3" fill="#ffff80"/>
<path d="M544.8,76.77 A84.3,84.3 0 0 1 544.8,203.93 A84.3,84.3 0 0 1 544.8,76.77 Z" fill="#bfbf7f"/>
<circle cx="489.45" cy="140.35" r="84.3" fill="none" stroke="#000" stroke-width="1.1"/>
<circle cx="600.15" cy="140.35" r="84.3" fill="none" stroke="#000" stroke-width="1.1"/>
<g font-family="Liberation Serif, serif"><text x="457.75 466.25 475.00 484.25" y="139.6" font-size="18.5" fill="#000" text-anchor="middle" font-weight="normal">3106</text><text x="535.75 544.75 553.75" y="139.6" font-size="18.5" fill="#000" text-anchor="middle" font-weight="normal">172</text><text x="605.00 613.25 622.00 630.75" y="139.6" font-size="18.5" fill="#000" text-anchor="middle" font-weight="normal">1252</text><text transform="translate(449.00,152.2) scale(1.0,1)" x="0" y="0" text-anchor="middle" font-size="15" fill="#000" stroke="#000" stroke-width="0.20">(</text><text transform="translate(455.20,152.2) scale(1.0,1)" x="0" y="0" text-anchor="middle" font-size="15" fill="#000" stroke="#000" stroke-width="0.20">6</text><text transform="translate(462.20,152.2) scale(1.0,1)" x="0" y="0" text-anchor="middle" font-size="15" fill="#000" stroke="#000" stroke-width="0.20">8</text><text transform="translate(469.20,152.2) scale(1.0,1)" x="0" y="0" text-anchor="middle" font-size="15" fill="#000" stroke="#000" stroke-width="0.20">.</text><text transform="translate(477.00,152.2) scale(1.0,1)" x="0" y="0" text-anchor="middle" font-size="15" fill="#000" stroke="#000" stroke-width="0.20">6</text><text transform="translate(485.80,152.2) scale(0.8,1)" x="0" y="0" text-anchor="middle" font-size="15" fill="#000" stroke="#000" stroke-width="0.25">%</text><text transform="translate(493.70,152.2) scale(1.0,1)" x="0" y="0" text-anchor="middle" font-size="15" fill="#000" stroke="#000" stroke-width="0.20">)</text><text transform="translate(526.50,152.2) scale(1.0,1)" x="0" y="0" text-anchor="middle" font-size="15" fill="#000" stroke="#000" stroke-width="0.20">(</text><text transform="translate(532.50,152.2) scale(1.0,1)" x="0" y="0" text-anchor="middle" font-size="15" fill="#000" stroke="#000" stroke-width="0.20">3</text><text transform="translate(539.70,152.2) scale(1.0,1)" x="0" y="0" text-anchor="middle" font-size="15" fill="#000" stroke="#000" stroke-width="0.20">.</text><text transform="translate(548.50,152.2) scale(1.0,1)" x="0" y="0" text-anchor="middle" font-size="15" fill="#000" stroke="#000" stroke-width="0.20">8</text><text transform="translate(556.70,152.2) scale(0.8,1)" x="0" y="0" text-anchor="middle" font-size="15" fill="#000" stroke="#000" stroke-width="0.25">%</text><text transform="translate(563.50,152.2) scale(1.0,1)" x="0" y="0" text-anchor="middle" font-size="15" fill="#000" stroke="#000" stroke-width="0.20">)</text><text transform="translate(595.75,152.2) scale(1.0,1)" x="0" y="0" text-anchor="middle" font-size="15" fill="#000" stroke="#000" stroke-width="0.20">(</text><text transform="translate(602.50,152.2) scale(1.0,1)" x="0" y="0" text-anchor="middle" font-size="15" fill="#000" stroke="#000" stroke-width="0.20">2</text><text transform="translate(609.50,152.2) scale(1.0,1)" x="0" y="0" text-anchor="middle" font-size="15" fill="#000" stroke="#000" stroke-width="0.20">7</text><text transform="translate(616.00,152.2) scale(1.0,1)" x="0" y="0" text-anchor="middle" font-size="15" fill="#000" stroke="#000" stroke-width="0.20">.</text><text transform="translate(625.00,152.2) scale(1.0,1)" x="0" y="0" text-anchor="middle" font-size="15" fill="#000" stroke="#000" stroke-width="0.20">6</text><text transform="translate(632.75,152.2) scale(0.8,1)" x="0" y="0" text-anchor="middle" font-size="15" fill="#000" stroke="#000" stroke-width="0.25">%</text><text transform="translate(639.75,152.2) scale(1.0,1)" x="0" y="0" text-anchor="middle" font-size="15" fill="#000" stroke="#000" stroke-width="0.20">)</text><text transform="translate(457.50,39.3) scale(0.7,1)" x="0" y="0" text-anchor="middle" font-size="17.6" fill="#0000ff" stroke="#0000ff" stroke-width="0.43">D</text><text transform="translate(466.60,39.3) scale(0.77,1)" x="0" y="0" text-anchor="middle" font-size="17.6" fill="#0000ff" stroke="#0000ff" stroke-width="0.39">E</text><text transform="translate(475.70,39.3) scale(0.71,1)" x="0" y="0" text-anchor="middle" font-size="17.6" fill="#0000ff" stroke="#0000ff" stroke-width="0.42">G</text><text transform="translate(484.80,39.3) scale(1.2,1)" x="0" y="0" text-anchor="middle" font-size="17.6" fill="#0000ff" stroke="#0000ff" stroke-width="0.25">s</text><text transform="translate(563.50,39.7) scale(0.66,1)" x="0" y="0" text-anchor="middle" font-size="17.6" fill="#808000" stroke="#808000" stroke-width="0.76">m</text><text transform="translate(572.60,39.7) scale(0.9,1)" x="0" y="0" text-anchor="middle" font-size="17.6" fill="#808000" stroke="#808000" stroke-width="0.56">i</text><text transform="translate(581.70,39.7) scale(0.7,1)" x="0" y="0" text-anchor="middle" font-size="17.6" fill="#808000" stroke="#808000" stroke-width="0.71">R</text><text transform="translate(590.80,39.7) scale(0.66,1)" x="0" y="0" text-anchor="middle" font-size="17.6" fill="#808000" stroke="#808000" stroke-width="0.76">N</text><text transform="translate(599.90,39.7) scale(0.64,1)" x="0" y="0" text-anchor="middle" font-size="17.6" fill="#808000" stroke="#808000" stroke-width="0.78">A</text><text transform="translate(618.10,39.7) scale(1.15,1)" x="0" y="0" text-anchor="middle" font-size="17.6" fill="#808000" stroke="#808000" stroke-width="0.43">t</text><text transform="translate(627.20,39.7) scale(1.0,1)" x="0" y="0" text-anchor="middle" font-size="17.6" fill="#808000" stroke="#808000" stroke-width="0.50">a</text><text transform="translate(636.30,39.7) scale(1.25,1)" x="0" y="0" text-anchor="middle" font-size="17.6" fill="#808000" stroke="#808000" stroke-width="0.40">r</text><text transform="translate(645.40,39.7) scale(0.9,1)" x="0" y="0" text-anchor="middle" font-size="17.6" fill="#808000" stroke="#808000" stroke-width="0.56">g</text><text transform="translate(654.50,39.7) scale(0.95,1)" x="0" y="0" text-anchor="middle" font-size="17.6" fill="#808000" stroke="#808000" stroke-width="0.53">e</text><text transform="translate(663.60,39.7) scale(1.15,1)" x="0" y="0" text-anchor="middle" font-size="17.6" fill="#808000" stroke="#808000" stroke-width="0.43">t</text><text transform="translate(672.70,39.7) scale(1.2,1)" x="0" y="0" text-anchor="middle" font-size="17.6" fill="#808000" stroke="#808000" stroke-width="0.42">s</text></g>
</svg></body></html>
